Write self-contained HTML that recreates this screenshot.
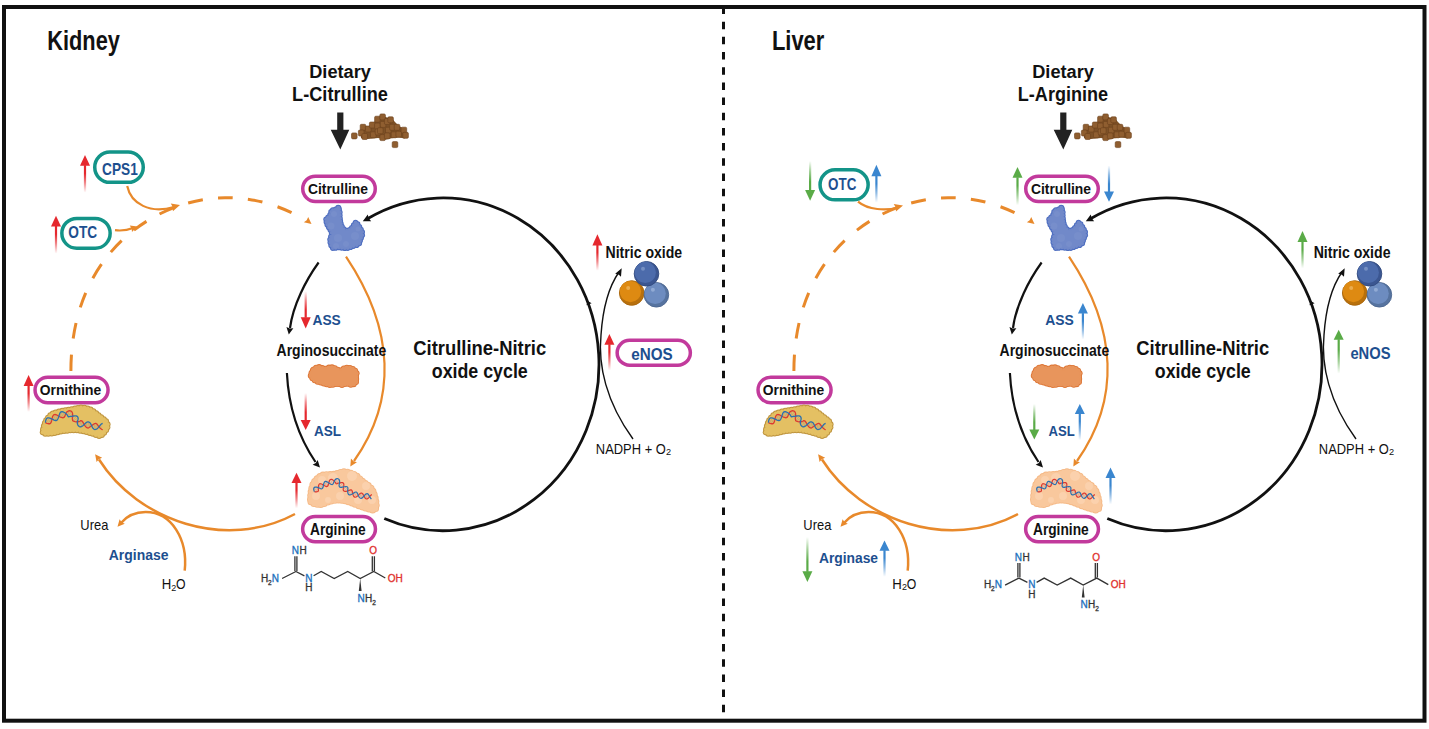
<!DOCTYPE html>
<html><head><meta charset="utf-8"><style>html,body{margin:0;padding:0;background:#fff;overflow:hidden;}svg{display:block;font-family:"Liberation Sans",sans-serif;}</style></head><body>
<svg width="1429" height="729" viewBox="0 0 1429 729" font-family="Liberation Sans, sans-serif">
<defs>
<linearGradient id="g_e5282e_u" x1="0" y1="1" x2="0" y2="0"><stop offset="0" stop-color="#e5282e" stop-opacity="0"/><stop offset="0.35" stop-color="#e5282e" stop-opacity="0.55"/><stop offset="0.7" stop-color="#e5282e" stop-opacity="1"/></linearGradient>
<linearGradient id="g_e5282e_d" x1="0" y1="0" x2="0" y2="1"><stop offset="0" stop-color="#e5282e" stop-opacity="0"/><stop offset="0.35" stop-color="#e5282e" stop-opacity="0.55"/><stop offset="0.7" stop-color="#e5282e" stop-opacity="1"/></linearGradient>
<linearGradient id="g_5aab47_d" x1="0" y1="0" x2="0" y2="1"><stop offset="0" stop-color="#5aab47" stop-opacity="0"/><stop offset="0.35" stop-color="#5aab47" stop-opacity="0.55"/><stop offset="0.7" stop-color="#5aab47" stop-opacity="1"/></linearGradient>
<linearGradient id="g_3a86cf_u" x1="0" y1="1" x2="0" y2="0"><stop offset="0" stop-color="#3a86cf" stop-opacity="0"/><stop offset="0.35" stop-color="#3a86cf" stop-opacity="0.55"/><stop offset="0.7" stop-color="#3a86cf" stop-opacity="1"/></linearGradient>
<linearGradient id="g_5aab47_u" x1="0" y1="1" x2="0" y2="0"><stop offset="0" stop-color="#5aab47" stop-opacity="0"/><stop offset="0.35" stop-color="#5aab47" stop-opacity="0.55"/><stop offset="0.7" stop-color="#5aab47" stop-opacity="1"/></linearGradient>
<linearGradient id="g_3a86cf_d" x1="0" y1="0" x2="0" y2="1"><stop offset="0" stop-color="#3a86cf" stop-opacity="0"/><stop offset="0.35" stop-color="#3a86cf" stop-opacity="0.55"/><stop offset="0.7" stop-color="#3a86cf" stop-opacity="1"/></linearGradient>
<radialGradient id="bo" cx="0.4" cy="0.35" r="0.7"><stop offset="0" stop-color="#eba033"/><stop offset="0.7" stop-color="#de8a12"/><stop offset="1" stop-color="#c07410"/></radialGradient>
<radialGradient id="blb" cx="0.4" cy="0.35" r="0.7"><stop offset="0" stop-color="#86a2cf"/><stop offset="0.7" stop-color="#6e8cc0"/><stop offset="1" stop-color="#5a76a8"/></radialGradient>
<radialGradient id="bdb" cx="0.4" cy="0.35" r="0.7"><stop offset="0" stop-color="#6382c0"/><stop offset="0.7" stop-color="#4b6aab"/><stop offset="1" stop-color="#3b5894"/></radialGradient>
</defs>
<rect width="1429" height="729" fill="#fff"/>
<path d="M70.9,371 C70.9,247 163,197.7 225,197.7 C230,197.7 267.9,195.8 309,222.5" fill="none" stroke="#e8892b" stroke-width="3.0" stroke-dasharray="16.25 16.25 15.75 16.25 15.50 16.25 16.50 15.25 15.75 16.25 15.25 15.00 15.75 15.00 15.00 15.25 15.00 15.25 14.75 15.75 15.25 200.00" stroke-dashoffset="0"/>
<polygon points="311.50,224.00 303.85,222.36 306.69,220.15 308.22,216.89" fill="#e8892b"/>
<path d="M384.3,518.5 A156,166.4 0 1 0 367,219" fill="none" stroke="#111" stroke-width="2.8"/>
<polygon points="362.80,221.20 367.79,214.46 368.68,218.21 371.19,221.15" fill="#111"/>
<polygon points="587.80,301.00 591.60,303.31 589.03,304.28 586.45,305.24" fill="#111"/>
<path d="M318.6,262.5 C306,280 293,305 290,328" fill="none" stroke="#111" stroke-width="2.2"/>
<polygon points="288.80,334.50 286.46,327.03 289.78,328.42 293.37,328.15" fill="#111"/>
<path d="M286.9,373 C288.5,405 298.5,437 315.5,462" fill="none" stroke="#111" stroke-width="2.2"/>
<polygon points="320.00,467.40 312.63,464.76 315.74,462.95 317.69,459.92" fill="#111"/>
<path d="M346,256.7 C395,330 397,400 354,461" fill="none" stroke="#e8892b" stroke-width="2.2"/>
<polygon points="350.30,466.40 350.94,458.60 353.49,461.13 356.92,462.23" fill="#e8892b"/>
<path d="M295,514 C226,551 138,521 99,459.5" fill="none" stroke="#e8892b" stroke-width="2.5"/>
<polygon points="95.10,454.30 102.14,457.73 98.85,459.19 96.58,461.99" fill="#e8892b"/>
<path d="M184.7,570.6 C188,540 172,512 145.6,512 C134,512 126,517 121,523" fill="none" stroke="#e8892b" stroke-width="2.5"/>
<polygon points="117.50,526.70 119.59,519.16 121.63,522.13 124.79,523.85" fill="#e8892b"/>
<path d="M633,439 C606,402 598,365 601,335 C603,305 610,285 619,272" fill="none" stroke="#111" stroke-width="1.4"/>
<polygon points="621.70,268.20 620.99,276.81 618.52,274.48 615.19,273.87" fill="#111"/>
<rect x="302.75" y="176.15" width="72.50" height="25.30" rx="12.65" fill="#fff" stroke="#c23a9c" stroke-width="3.50"/>
<text x="307.95" y="194.30" font-size="14.97" font-weight="bold" fill="#111111" textLength="60.09" lengthAdjust="spacingAndGlyphs">Citrulline</text>
<rect x="302.65" y="516.55" width="72.80" height="25.10" rx="12.55" fill="#fff" stroke="#c23a9c" stroke-width="3.50"/>
<text x="309.96" y="534.60" font-size="15.99" font-weight="bold" fill="#111111" textLength="55.73" lengthAdjust="spacingAndGlyphs">Arginine</text>
<rect x="35.05" y="377.15" width="73.00" height="25.50" rx="12.75" fill="#fff" stroke="#c23a9c" stroke-width="3.50"/>
<text x="39.75" y="394.60" font-size="15.41" font-weight="bold" fill="#111111" textLength="61.53" lengthAdjust="spacingAndGlyphs">Ornithine</text>
<text x="309.22" y="78.30" font-size="18.90" font-weight="bold" fill="#111111" textLength="61.69" lengthAdjust="spacingAndGlyphs">Dietary</text>
<path d="M337.2,112.6 L343.4,112.6 L343.4,129.7 L349.3,129.7 L340.3,149.6 L330.7,129.7 L337.2,129.7Z" fill="#222"/>
<path d="M361,138 L360.5,130 L364,126 L369,126 L374,122 L377.5,117.5 L382,115.5 L387,117.5 L391.5,118 L395,122 L398.5,125.5 L402.5,128 L406,131 L406.5,136 L404.5,138.5 L399,137.5 L393,138 L386,139.5 L378,138 L368,139 Z" fill="#7d5127"/>
<rect x="360.20" y="124.30" width="5.6" height="6" rx="1.3" fill="#8f5e30" stroke="#6b421d" stroke-width="0.6"/>
<rect x="358.40" y="130.00" width="5.6" height="6" rx="1.3" fill="#8f5e30" stroke="#6b421d" stroke-width="0.6"/>
<rect x="361.90" y="133.50" width="5.6" height="6" rx="1.3" fill="#8f5e30" stroke="#6b421d" stroke-width="0.6"/>
<rect x="365.40" y="126.00" width="5.6" height="6" rx="1.3" fill="#8f5e30" stroke="#6b421d" stroke-width="0.6"/>
<rect x="369.40" y="122.00" width="5.6" height="6" rx="1.3" fill="#8f5e30" stroke="#6b421d" stroke-width="0.6"/>
<rect x="370.50" y="131.80" width="5.6" height="6" rx="1.3" fill="#8f5e30" stroke="#6b421d" stroke-width="0.6"/>
<rect x="374.60" y="116.20" width="5.6" height="6" rx="1.3" fill="#8f5e30" stroke="#6b421d" stroke-width="0.6"/>
<rect x="374.60" y="123.10" width="5.6" height="6" rx="1.3" fill="#8f5e30" stroke="#6b421d" stroke-width="0.6"/>
<rect x="375.20" y="128.90" width="5.6" height="6" rx="1.3" fill="#8f5e30" stroke="#6b421d" stroke-width="0.6"/>
<rect x="379.80" y="113.90" width="5.6" height="6" rx="1.3" fill="#8f5e30" stroke="#6b421d" stroke-width="0.6"/>
<rect x="380.30" y="121.40" width="5.6" height="6" rx="1.3" fill="#8f5e30" stroke="#6b421d" stroke-width="0.6"/>
<rect x="379.80" y="134.60" width="5.6" height="6" rx="1.3" fill="#8f5e30" stroke="#6b421d" stroke-width="0.6"/>
<rect x="377.50" y="127.70" width="5.6" height="6" rx="1.3" fill="#8f5e30" stroke="#6b421d" stroke-width="0.6"/>
<rect x="384.40" y="118.50" width="5.6" height="6" rx="1.3" fill="#8f5e30" stroke="#6b421d" stroke-width="0.6"/>
<rect x="385.50" y="127.20" width="5.6" height="6" rx="1.3" fill="#8f5e30" stroke="#6b421d" stroke-width="0.6"/>
<rect x="384.40" y="132.90" width="5.6" height="6" rx="1.3" fill="#8f5e30" stroke="#6b421d" stroke-width="0.6"/>
<rect x="387.80" y="116.80" width="5.6" height="6" rx="1.3" fill="#8f5e30" stroke="#6b421d" stroke-width="0.6"/>
<rect x="389.60" y="124.30" width="5.6" height="6" rx="1.3" fill="#8f5e30" stroke="#6b421d" stroke-width="0.6"/>
<rect x="391.20" y="131.80" width="5.6" height="6" rx="1.3" fill="#8f5e30" stroke="#6b421d" stroke-width="0.6"/>
<rect x="394.20" y="124.30" width="5.6" height="6" rx="1.3" fill="#8f5e30" stroke="#6b421d" stroke-width="0.6"/>
<rect x="395.90" y="131.20" width="5.6" height="6" rx="1.3" fill="#8f5e30" stroke="#6b421d" stroke-width="0.6"/>
<rect x="401.10" y="127.20" width="5.6" height="6" rx="1.3" fill="#8f5e30" stroke="#6b421d" stroke-width="0.6"/>
<rect x="402.80" y="132.30" width="5.6" height="6" rx="1.3" fill="#8f5e30" stroke="#6b421d" stroke-width="0.6"/>
<rect x="351.50" y="132.90" width="5.6" height="6" rx="1.3" fill="#8f5e30" stroke="#6b421d" stroke-width="0.6"/>
<rect x="392.20" y="141.60" width="5.6" height="6" rx="1.3" fill="#8f5e30" stroke="#6b421d" stroke-width="0.6"/>
<circle cx="338.10" cy="207.58" r="2.80" fill="#4e6ec0"/><circle cx="339.08" cy="209.35" r="2.80" fill="#4e6ec0"/><circle cx="339.82" cy="212.18" r="2.80" fill="#4e6ec0"/><circle cx="339.79" cy="215.31" r="2.80" fill="#4e6ec0"/><circle cx="339.98" cy="218.19" r="2.80" fill="#4e6ec0"/><circle cx="340.36" cy="220.96" r="2.80" fill="#4e6ec0"/><circle cx="340.91" cy="223.76" r="2.80" fill="#4e6ec0"/><circle cx="341.97" cy="226.59" r="2.80" fill="#4e6ec0"/><circle cx="343.84" cy="229.10" r="2.80" fill="#4e6ec0"/><circle cx="346.87" cy="230.60" r="2.80" fill="#4e6ec0"/><circle cx="349.60" cy="229.77" r="2.80" fill="#4e6ec0"/><circle cx="351.80" cy="227.70" r="2.80" fill="#4e6ec0"/><circle cx="353.72" cy="224.93" r="2.80" fill="#4e6ec0"/><circle cx="355.52" cy="222.50" r="2.80" fill="#4e6ec0"/><circle cx="357.64" cy="224.13" r="2.80" fill="#4e6ec0"/><circle cx="359.43" cy="226.89" r="2.80" fill="#4e6ec0"/><circle cx="360.98" cy="229.48" r="2.80" fill="#4e6ec0"/><circle cx="362.20" cy="232.02" r="2.80" fill="#4e6ec0"/><circle cx="362.24" cy="235.19" r="2.80" fill="#4e6ec0"/><circle cx="361.14" cy="238.04" r="2.80" fill="#4e6ec0"/><circle cx="360.12" cy="240.68" r="2.80" fill="#4e6ec0"/><circle cx="359.28" cy="243.50" r="2.80" fill="#4e6ec0"/><circle cx="356.68" cy="245.20" r="2.80" fill="#4e6ec0"/><circle cx="353.48" cy="246.12" r="2.80" fill="#4e6ec0"/><circle cx="350.54" cy="247.21" r="2.80" fill="#4e6ec0"/><circle cx="347.76" cy="248.10" r="2.80" fill="#4e6ec0"/><circle cx="344.82" cy="248.29" r="2.80" fill="#4e6ec0"/><circle cx="341.74" cy="247.85" r="2.80" fill="#4e6ec0"/><circle cx="338.93" cy="247.51" r="2.80" fill="#4e6ec0"/><circle cx="335.53" cy="247.95" r="2.80" fill="#4e6ec0"/><circle cx="332.75" cy="248.12" r="2.80" fill="#4e6ec0"/><circle cx="331.13" cy="245.48" r="2.80" fill="#4e6ec0"/><circle cx="330.31" cy="242.49" r="2.80" fill="#4e6ec0"/><circle cx="330.07" cy="239.51" r="2.80" fill="#4e6ec0"/><circle cx="330.92" cy="236.43" r="2.80" fill="#4e6ec0"/><circle cx="331.58" cy="232.87" r="2.80" fill="#4e6ec0"/><circle cx="330.38" cy="230.00" r="2.80" fill="#4e6ec0"/><circle cx="328.82" cy="227.47" r="2.80" fill="#4e6ec0"/><circle cx="327.25" cy="224.79" r="2.80" fill="#4e6ec0"/><circle cx="326.37" cy="222.09" r="2.80" fill="#4e6ec0"/><circle cx="326.12" cy="219.23" r="2.80" fill="#4e6ec0"/><circle cx="328.08" cy="217.25" r="2.80" fill="#4e6ec0"/><circle cx="330.09" cy="214.91" r="2.80" fill="#4e6ec0"/><circle cx="331.06" cy="211.90" r="2.80" fill="#4e6ec0"/><circle cx="332.78" cy="209.99" r="2.80" fill="#4e6ec0"/><circle cx="335.66" cy="209.31" r="2.80" fill="#4e6ec0"/><circle cx="338.54" cy="207.69" r="2.80" fill="#4e6ec0"/><circle cx="338.10" cy="207.58" r="1.80" fill="#7189c9"/><circle cx="339.08" cy="209.35" r="1.80" fill="#7189c9"/><circle cx="339.82" cy="212.18" r="1.80" fill="#7189c9"/><circle cx="339.79" cy="215.31" r="1.80" fill="#7189c9"/><circle cx="339.98" cy="218.19" r="1.80" fill="#7189c9"/><circle cx="340.36" cy="220.96" r="1.80" fill="#7189c9"/><circle cx="340.91" cy="223.76" r="1.80" fill="#7189c9"/><circle cx="341.97" cy="226.59" r="1.80" fill="#7189c9"/><circle cx="343.84" cy="229.10" r="1.80" fill="#7189c9"/><circle cx="346.87" cy="230.60" r="1.80" fill="#7189c9"/><circle cx="349.60" cy="229.77" r="1.80" fill="#7189c9"/><circle cx="351.80" cy="227.70" r="1.80" fill="#7189c9"/><circle cx="353.72" cy="224.93" r="1.80" fill="#7189c9"/><circle cx="355.52" cy="222.50" r="1.80" fill="#7189c9"/><circle cx="357.64" cy="224.13" r="1.80" fill="#7189c9"/><circle cx="359.43" cy="226.89" r="1.80" fill="#7189c9"/><circle cx="360.98" cy="229.48" r="1.80" fill="#7189c9"/><circle cx="362.20" cy="232.02" r="1.80" fill="#7189c9"/><circle cx="362.24" cy="235.19" r="1.80" fill="#7189c9"/><circle cx="361.14" cy="238.04" r="1.80" fill="#7189c9"/><circle cx="360.12" cy="240.68" r="1.80" fill="#7189c9"/><circle cx="359.28" cy="243.50" r="1.80" fill="#7189c9"/><circle cx="356.68" cy="245.20" r="1.80" fill="#7189c9"/><circle cx="353.48" cy="246.12" r="1.80" fill="#7189c9"/><circle cx="350.54" cy="247.21" r="1.80" fill="#7189c9"/><circle cx="347.76" cy="248.10" r="1.80" fill="#7189c9"/><circle cx="344.82" cy="248.29" r="1.80" fill="#7189c9"/><circle cx="341.74" cy="247.85" r="1.80" fill="#7189c9"/><circle cx="338.93" cy="247.51" r="1.80" fill="#7189c9"/><circle cx="335.53" cy="247.95" r="1.80" fill="#7189c9"/><circle cx="332.75" cy="248.12" r="1.80" fill="#7189c9"/><circle cx="331.13" cy="245.48" r="1.80" fill="#7189c9"/><circle cx="330.31" cy="242.49" r="1.80" fill="#7189c9"/><circle cx="330.07" cy="239.51" r="1.80" fill="#7189c9"/><circle cx="330.92" cy="236.43" r="1.80" fill="#7189c9"/><circle cx="331.58" cy="232.87" r="1.80" fill="#7189c9"/><circle cx="330.38" cy="230.00" r="1.80" fill="#7189c9"/><circle cx="328.82" cy="227.47" r="1.80" fill="#7189c9"/><circle cx="327.25" cy="224.79" r="1.80" fill="#7189c9"/><circle cx="326.37" cy="222.09" r="1.80" fill="#7189c9"/><circle cx="326.12" cy="219.23" r="1.80" fill="#7189c9"/><circle cx="328.08" cy="217.25" r="1.80" fill="#7189c9"/><circle cx="330.09" cy="214.91" r="1.80" fill="#7189c9"/><circle cx="331.06" cy="211.90" r="1.80" fill="#7189c9"/><circle cx="332.78" cy="209.99" r="1.80" fill="#7189c9"/><circle cx="335.66" cy="209.31" r="1.80" fill="#7189c9"/><circle cx="338.54" cy="207.69" r="1.80" fill="#7189c9"/><path d="M338.10,207.58 L337.52,207.48 L338.00,207.94 L338.56,208.59 L339.08,209.35 L339.48,210.14 L339.68,210.76 L339.77,211.37 L339.82,212.18 L339.82,213.14 L339.81,214.19 L339.79,215.31 L339.82,216.49 L339.91,217.64 L340.05,218.73 L340.20,219.83 L340.36,220.96 L340.56,222.10 L340.78,223.22 L341.06,224.30 L341.41,225.36 L341.97,226.59 L342.81,227.93 L343.84,229.10 L345.10,230.04 L346.87,230.60 L348.82,230.21 L350.24,229.27 L351.31,228.23 L352.28,227.16 L353.06,226.08 L353.72,224.93 L354.27,223.90 L354.71,223.17 L354.98,222.86 L355.52,222.50 L355.85,222.35 L356.04,222.37 L356.23,222.51 L356.53,222.80 L357.05,223.38 L357.64,224.13 L358.24,224.99 L358.85,225.93 L359.43,226.89 L359.93,227.72 L360.46,228.60 L360.98,229.48 L361.46,230.36 L361.87,231.21 L362.20,232.02 L362.41,232.74 L362.50,233.34 L362.49,234.00 L362.35,234.76 L362.10,235.63 L361.75,236.57 L361.35,237.55 L360.92,238.54 L360.51,239.55 L360.12,240.68 L359.78,241.84 L359.52,242.80 L359.28,243.50 L359.04,243.96 L358.73,244.31 L358.41,244.54 L357.86,244.80 L357.12,245.07 L356.20,245.33 L355.17,245.61 L354.05,245.93 L352.98,246.29 L351.99,246.66 L351.02,247.03 L350.06,247.39 L349.12,247.71 L348.21,247.98 L347.33,248.19 L346.49,248.31 L345.71,248.34 L344.82,248.29 L343.85,248.18 L342.82,248.02 L341.74,247.85 L340.64,247.68 L339.53,247.55 L338.33,247.50 L336.86,247.64 L335.53,247.95 L334.46,248.26 L333.69,248.46 L333.32,248.51 L333.21,248.49 L332.96,248.31 L332.53,247.87 L332.04,247.21 L331.57,246.39 L331.13,245.48 L330.78,244.55 L330.56,243.82 L330.38,242.96 L330.24,242.00 L330.15,240.99 L330.09,240.00 L330.07,239.05 L330.08,238.28 L330.11,237.71 L330.35,237.25 L330.92,236.43 L331.59,234.81 L331.58,232.87 L331.17,231.56 L330.67,230.51 L330.09,229.49 L329.46,228.47 L328.82,227.47 L328.21,226.50 L327.67,225.59 L327.25,224.79 L326.96,224.11 L326.64,223.10 L326.37,222.09 L326.19,221.15 L326.10,220.29 L326.09,219.55 L326.15,219.02 L326.21,218.72 L326.48,218.42 L327.10,217.94 L328.08,217.25 L329.21,216.24 L330.09,214.91 L330.60,213.60 L330.93,212.42 L331.19,211.43 L331.40,210.75 L331.44,210.60 L331.78,210.31 L332.34,210.11 L333.26,209.86 L334.18,209.57 L335.10,209.40 L336.42,209.12 L338.03,208.24 L338.67,207.45Z" fill="#7189c9"/>
<circle cx="334.0" cy="214.0" r="3.0" fill="#7f95cf" opacity="0.45"/>
<circle cx="331.0" cy="226.0" r="3.5" fill="#7f95cf" opacity="0.45"/>
<circle cx="338.0" cy="238.0" r="4.0" fill="#7f95cf" opacity="0.45"/>
<circle cx="355.0" cy="236.0" r="4.0" fill="#7f95cf" opacity="0.45"/>
<circle cx="346.0" cy="244.0" r="3.0" fill="#7f95cf" opacity="0.45"/>
<circle cx="358.0" cy="229.0" r="2.5" fill="#7f95cf" opacity="0.45"/>
<circle cx="336.0" cy="246.0" r="3.0" fill="#7f95cf" opacity="0.45"/>
<circle cx="313.78" cy="369.40" r="3.00" fill="#dc7332"/><circle cx="316.13" cy="367.75" r="3.00" fill="#dc7332"/><circle cx="319.12" cy="367.11" r="3.00" fill="#dc7332"/><circle cx="322.33" cy="368.08" r="3.00" fill="#dc7332"/><circle cx="325.80" cy="368.74" r="3.00" fill="#dc7332"/><circle cx="328.95" cy="367.61" r="3.00" fill="#dc7332"/><circle cx="331.98" cy="367.35" r="3.00" fill="#dc7332"/><circle cx="334.82" cy="368.24" r="3.00" fill="#dc7332"/><circle cx="337.72" cy="369.80" r="3.00" fill="#dc7332"/><circle cx="341.42" cy="370.19" r="3.00" fill="#dc7332"/><circle cx="343.83" cy="368.48" r="3.00" fill="#dc7332"/><circle cx="346.81" cy="367.69" r="3.00" fill="#dc7332"/><circle cx="349.94" cy="367.89" r="3.00" fill="#dc7332"/><circle cx="352.74" cy="368.97" r="3.00" fill="#dc7332"/><circle cx="355.08" cy="370.76" r="3.00" fill="#dc7332"/><circle cx="356.58" cy="373.21" r="3.00" fill="#dc7332"/><circle cx="355.97" cy="376.14" r="3.00" fill="#dc7332"/><circle cx="356.17" cy="379.04" r="3.00" fill="#dc7332"/><circle cx="355.99" cy="381.98" r="3.00" fill="#dc7332"/><circle cx="353.69" cy="384.16" r="3.00" fill="#dc7332"/><circle cx="350.84" cy="384.70" r="3.00" fill="#dc7332"/><circle cx="347.83" cy="383.76" r="3.00" fill="#dc7332"/><circle cx="344.75" cy="384.09" r="3.00" fill="#dc7332"/><circle cx="341.95" cy="385.00" r="3.00" fill="#dc7332"/><circle cx="338.54" cy="384.05" r="3.00" fill="#dc7332"/><circle cx="335.60" cy="384.05" r="3.00" fill="#dc7332"/><circle cx="332.82" cy="384.82" r="3.00" fill="#dc7332"/><circle cx="329.84" cy="385.11" r="3.00" fill="#dc7332"/><circle cx="326.62" cy="384.34" r="3.00" fill="#dc7332"/><circle cx="323.74" cy="383.51" r="3.00" fill="#dc7332"/><circle cx="320.74" cy="382.51" r="3.00" fill="#dc7332"/><circle cx="317.67" cy="381.74" r="3.00" fill="#dc7332"/><circle cx="314.75" cy="380.28" r="3.00" fill="#dc7332"/><circle cx="312.41" cy="378.24" r="3.00" fill="#dc7332"/><circle cx="310.78" cy="375.71" r="3.00" fill="#dc7332"/><circle cx="311.52" cy="372.89" r="3.00" fill="#dc7332"/><circle cx="312.93" cy="370.30" r="3.00" fill="#dc7332"/><circle cx="313.78" cy="369.40" r="2.20" fill="#e8955c"/><circle cx="316.13" cy="367.75" r="2.20" fill="#e8955c"/><circle cx="319.12" cy="367.11" r="2.20" fill="#e8955c"/><circle cx="322.33" cy="368.08" r="2.20" fill="#e8955c"/><circle cx="325.80" cy="368.74" r="2.20" fill="#e8955c"/><circle cx="328.95" cy="367.61" r="2.20" fill="#e8955c"/><circle cx="331.98" cy="367.35" r="2.20" fill="#e8955c"/><circle cx="334.82" cy="368.24" r="2.20" fill="#e8955c"/><circle cx="337.72" cy="369.80" r="2.20" fill="#e8955c"/><circle cx="341.42" cy="370.19" r="2.20" fill="#e8955c"/><circle cx="343.83" cy="368.48" r="2.20" fill="#e8955c"/><circle cx="346.81" cy="367.69" r="2.20" fill="#e8955c"/><circle cx="349.94" cy="367.89" r="2.20" fill="#e8955c"/><circle cx="352.74" cy="368.97" r="2.20" fill="#e8955c"/><circle cx="355.08" cy="370.76" r="2.20" fill="#e8955c"/><circle cx="356.58" cy="373.21" r="2.20" fill="#e8955c"/><circle cx="355.97" cy="376.14" r="2.20" fill="#e8955c"/><circle cx="356.17" cy="379.04" r="2.20" fill="#e8955c"/><circle cx="355.99" cy="381.98" r="2.20" fill="#e8955c"/><circle cx="353.69" cy="384.16" r="2.20" fill="#e8955c"/><circle cx="350.84" cy="384.70" r="2.20" fill="#e8955c"/><circle cx="347.83" cy="383.76" r="2.20" fill="#e8955c"/><circle cx="344.75" cy="384.09" r="2.20" fill="#e8955c"/><circle cx="341.95" cy="385.00" r="2.20" fill="#e8955c"/><circle cx="338.54" cy="384.05" r="2.20" fill="#e8955c"/><circle cx="335.60" cy="384.05" r="2.20" fill="#e8955c"/><circle cx="332.82" cy="384.82" r="2.20" fill="#e8955c"/><circle cx="329.84" cy="385.11" r="2.20" fill="#e8955c"/><circle cx="326.62" cy="384.34" r="2.20" fill="#e8955c"/><circle cx="323.74" cy="383.51" r="2.20" fill="#e8955c"/><circle cx="320.74" cy="382.51" r="2.20" fill="#e8955c"/><circle cx="317.67" cy="381.74" r="2.20" fill="#e8955c"/><circle cx="314.75" cy="380.28" r="2.20" fill="#e8955c"/><circle cx="312.41" cy="378.24" r="2.20" fill="#e8955c"/><circle cx="310.78" cy="375.71" r="2.20" fill="#e8955c"/><circle cx="311.52" cy="372.89" r="2.20" fill="#e8955c"/><circle cx="312.93" cy="370.30" r="2.20" fill="#e8955c"/><path d="M313.78,369.40 L314.39,368.87 L315.08,368.36 L315.78,367.92 L316.47,367.59 L317.13,367.38 L317.86,367.23 L318.69,367.14 L319.53,367.11 L320.25,367.13 L320.74,367.20 L321.31,367.49 L322.33,368.08 L323.93,368.69 L325.80,368.74 L327.31,368.32 L328.47,367.83 L329.38,367.43 L330.02,367.22 L330.54,367.18 L331.21,367.23 L331.98,367.35 L332.83,367.56 L333.71,367.82 L334.47,368.07 L335.21,368.44 L336.12,368.95 L337.15,369.52 L338.34,370.06 L340.19,370.39 L342.37,369.73 L343.51,368.76 L344.17,368.32 L344.63,368.20 L345.49,367.96 L346.38,367.76 L347.22,367.63 L347.97,367.60 L348.71,367.66 L349.52,367.79 L350.36,368.00 L351.18,368.27 L351.93,368.57 L352.74,368.97 L353.51,369.43 L354.21,369.95 L354.82,370.48 L355.33,371.05 L355.81,371.69 L356.22,372.36 L356.50,372.99 L356.62,373.35 L356.62,373.69 L356.45,374.32 L356.12,375.42 L355.90,376.92 L356.03,378.42 L356.29,379.54 L356.43,380.22 L356.42,380.65 L356.27,381.26 L355.99,381.98 L355.64,382.61 L355.17,383.16 L354.73,383.50 L354.06,383.95 L353.31,384.36 L352.56,384.68 L351.95,384.87 L351.61,384.92 L351.18,384.82 L350.40,384.54 L349.29,384.12 L347.83,383.76 L346.18,383.76 L344.75,384.09 L343.61,384.50 L342.74,384.82 L342.15,384.98 L341.75,384.99 L341.21,384.86 L340.37,384.58 L339.23,384.21 L337.79,383.94 L336.28,383.94 L334.97,384.19 L333.83,384.51 L332.82,384.82 L331.96,385.06 L331.26,385.18 L330.61,385.19 L329.84,385.11 L328.98,384.95 L328.07,384.73 L327.11,384.48 L326.14,384.21 L325.17,383.95 L324.21,383.67 L323.27,383.36 L322.31,383.02 L321.29,382.68 L320.19,382.35 L319.09,382.08 L318.11,381.85 L317.26,381.62 L316.53,381.35 L315.85,381.00 L315.13,380.54 L314.37,380.00 L313.64,379.41 L312.98,378.82 L312.41,378.24 L311.79,377.53 L311.30,376.87 L310.98,376.33 L310.82,375.90 L310.78,375.54 L310.85,374.99 L311.04,374.20 L311.34,373.33 L311.69,372.47 L312.06,371.67 L312.48,370.93 L312.93,370.30 L313.47,369.70Z" fill="#e8955c"/>
<circle cx="310.55" cy="499.13" r="3.50" fill="#f5b986"/><circle cx="310.74" cy="495.52" r="3.50" fill="#f5b986"/><circle cx="311.17" cy="491.87" r="3.50" fill="#f5b986"/><circle cx="311.87" cy="488.16" r="3.50" fill="#f5b986"/><circle cx="312.95" cy="484.60" r="3.50" fill="#f5b986"/><circle cx="314.65" cy="481.57" r="3.50" fill="#f5b986"/><circle cx="317.07" cy="478.78" r="3.50" fill="#f5b986"/><circle cx="319.87" cy="476.56" r="3.50" fill="#f5b986"/><circle cx="322.97" cy="475.05" r="3.50" fill="#f5b986"/><circle cx="326.44" cy="474.66" r="3.50" fill="#f5b986"/><circle cx="330.18" cy="474.60" r="3.50" fill="#f5b986"/><circle cx="333.69" cy="474.31" r="3.50" fill="#f5b986"/><circle cx="337.11" cy="473.50" r="3.50" fill="#f5b986"/><circle cx="340.59" cy="472.44" r="3.50" fill="#f5b986"/><circle cx="343.92" cy="471.75" r="3.50" fill="#f5b986"/><circle cx="347.51" cy="472.16" r="3.50" fill="#f5b986"/><circle cx="350.80" cy="473.20" r="3.50" fill="#f5b986"/><circle cx="353.97" cy="474.56" r="3.50" fill="#f5b986"/><circle cx="356.98" cy="476.16" r="3.50" fill="#f5b986"/><circle cx="359.76" cy="478.95" r="3.50" fill="#f5b986"/><circle cx="362.43" cy="481.32" r="3.50" fill="#f5b986"/><circle cx="365.31" cy="483.38" r="3.50" fill="#f5b986"/><circle cx="368.23" cy="485.52" r="3.50" fill="#f5b986"/><circle cx="371.01" cy="488.13" r="3.50" fill="#f5b986"/><circle cx="372.93" cy="491.31" r="3.50" fill="#f5b986"/><circle cx="374.16" cy="494.53" r="3.50" fill="#f5b986"/><circle cx="375.15" cy="498.08" r="3.50" fill="#f5b986"/><circle cx="375.82" cy="501.50" r="3.50" fill="#f5b986"/><circle cx="376.16" cy="505.14" r="3.50" fill="#f5b986"/><circle cx="375.56" cy="508.59" r="3.50" fill="#f5b986"/><circle cx="372.65" cy="509.96" r="3.50" fill="#f5b986"/><circle cx="369.01" cy="509.07" r="3.50" fill="#f5b986"/><circle cx="365.46" cy="507.97" r="3.50" fill="#f5b986"/><circle cx="362.18" cy="506.92" r="3.50" fill="#f5b986"/><circle cx="358.88" cy="505.68" r="3.50" fill="#f5b986"/><circle cx="355.24" cy="504.23" r="3.50" fill="#f5b986"/><circle cx="352.06" cy="502.98" r="3.50" fill="#f5b986"/><circle cx="348.48" cy="501.68" r="3.50" fill="#f5b986"/><circle cx="345.16" cy="500.72" r="3.50" fill="#f5b986"/><circle cx="341.81" cy="500.13" r="3.50" fill="#f5b986"/><circle cx="338.37" cy="499.99" r="3.50" fill="#f5b986"/><circle cx="334.80" cy="500.36" r="3.50" fill="#f5b986"/><circle cx="331.01" cy="501.05" r="3.50" fill="#f5b986"/><circle cx="327.70" cy="502.10" r="3.50" fill="#f5b986"/><circle cx="324.10" cy="503.43" r="3.50" fill="#f5b986"/><circle cx="320.72" cy="504.38" r="3.50" fill="#f5b986"/><circle cx="317.32" cy="504.35" r="3.50" fill="#f5b986"/><circle cx="313.92" cy="503.50" r="3.50" fill="#f5b986"/><circle cx="310.95" cy="501.73" r="3.50" fill="#f5b986"/><circle cx="310.55" cy="499.13" r="2.60" fill="#f9c89d"/><circle cx="310.74" cy="495.52" r="2.60" fill="#f9c89d"/><circle cx="311.17" cy="491.87" r="2.60" fill="#f9c89d"/><circle cx="311.87" cy="488.16" r="2.60" fill="#f9c89d"/><circle cx="312.95" cy="484.60" r="2.60" fill="#f9c89d"/><circle cx="314.65" cy="481.57" r="2.60" fill="#f9c89d"/><circle cx="317.07" cy="478.78" r="2.60" fill="#f9c89d"/><circle cx="319.87" cy="476.56" r="2.60" fill="#f9c89d"/><circle cx="322.97" cy="475.05" r="2.60" fill="#f9c89d"/><circle cx="326.44" cy="474.66" r="2.60" fill="#f9c89d"/><circle cx="330.18" cy="474.60" r="2.60" fill="#f9c89d"/><circle cx="333.69" cy="474.31" r="2.60" fill="#f9c89d"/><circle cx="337.11" cy="473.50" r="2.60" fill="#f9c89d"/><circle cx="340.59" cy="472.44" r="2.60" fill="#f9c89d"/><circle cx="343.92" cy="471.75" r="2.60" fill="#f9c89d"/><circle cx="347.51" cy="472.16" r="2.60" fill="#f9c89d"/><circle cx="350.80" cy="473.20" r="2.60" fill="#f9c89d"/><circle cx="353.97" cy="474.56" r="2.60" fill="#f9c89d"/><circle cx="356.98" cy="476.16" r="2.60" fill="#f9c89d"/><circle cx="359.76" cy="478.95" r="2.60" fill="#f9c89d"/><circle cx="362.43" cy="481.32" r="2.60" fill="#f9c89d"/><circle cx="365.31" cy="483.38" r="2.60" fill="#f9c89d"/><circle cx="368.23" cy="485.52" r="2.60" fill="#f9c89d"/><circle cx="371.01" cy="488.13" r="2.60" fill="#f9c89d"/><circle cx="372.93" cy="491.31" r="2.60" fill="#f9c89d"/><circle cx="374.16" cy="494.53" r="2.60" fill="#f9c89d"/><circle cx="375.15" cy="498.08" r="2.60" fill="#f9c89d"/><circle cx="375.82" cy="501.50" r="2.60" fill="#f9c89d"/><circle cx="376.16" cy="505.14" r="2.60" fill="#f9c89d"/><circle cx="375.56" cy="508.59" r="2.60" fill="#f9c89d"/><circle cx="372.65" cy="509.96" r="2.60" fill="#f9c89d"/><circle cx="369.01" cy="509.07" r="2.60" fill="#f9c89d"/><circle cx="365.46" cy="507.97" r="2.60" fill="#f9c89d"/><circle cx="362.18" cy="506.92" r="2.60" fill="#f9c89d"/><circle cx="358.88" cy="505.68" r="2.60" fill="#f9c89d"/><circle cx="355.24" cy="504.23" r="2.60" fill="#f9c89d"/><circle cx="352.06" cy="502.98" r="2.60" fill="#f9c89d"/><circle cx="348.48" cy="501.68" r="2.60" fill="#f9c89d"/><circle cx="345.16" cy="500.72" r="2.60" fill="#f9c89d"/><circle cx="341.81" cy="500.13" r="2.60" fill="#f9c89d"/><circle cx="338.37" cy="499.99" r="2.60" fill="#f9c89d"/><circle cx="334.80" cy="500.36" r="2.60" fill="#f9c89d"/><circle cx="331.01" cy="501.05" r="2.60" fill="#f9c89d"/><circle cx="327.70" cy="502.10" r="2.60" fill="#f9c89d"/><circle cx="324.10" cy="503.43" r="2.60" fill="#f9c89d"/><circle cx="320.72" cy="504.38" r="2.60" fill="#f9c89d"/><circle cx="317.32" cy="504.35" r="2.60" fill="#f9c89d"/><circle cx="313.92" cy="503.50" r="2.60" fill="#f9c89d"/><circle cx="310.95" cy="501.73" r="2.60" fill="#f9c89d"/><path d="M310.55,499.13 L310.56,498.54 L310.59,497.78 L310.63,496.93 L310.70,496.01 L310.79,495.03 L310.89,494.00 L311.02,492.95 L311.17,491.87 L311.35,490.79 L311.54,489.72 L311.75,488.67 L311.99,487.66 L312.24,486.69 L312.52,485.79 L312.80,484.97 L313.09,484.26 L313.45,483.53 L313.89,482.73 L314.39,481.95 L314.92,481.20 L315.50,480.47 L316.10,479.77 L316.74,479.10 L317.41,478.47 L318.10,477.87 L318.80,477.32 L319.51,476.80 L320.23,476.33 L320.95,475.91 L321.61,475.55 L322.28,475.27 L322.97,475.05 L323.73,474.89 L324.57,474.78 L325.48,474.70 L326.44,474.66 L327.46,474.64 L328.52,474.63 L329.62,474.62 L330.75,474.59 L331.91,474.52 L333.10,474.40 L334.29,474.20 L335.46,473.95 L336.57,473.65 L337.64,473.34 L338.67,473.02 L339.65,472.72 L340.59,472.44 L341.48,472.19 L342.34,471.99 L343.15,471.84 L343.92,471.75 L344.66,471.73 L345.39,471.78 L346.19,471.88 L347.06,472.05 L347.96,472.27 L348.90,472.55 L349.85,472.86 L350.80,473.20 L351.74,473.58 L352.66,473.96 L353.55,474.36 L354.39,474.75 L355.18,475.14 L355.84,475.48 L356.68,475.96 L357.24,476.35 L357.69,476.73 L358.14,477.19 L358.68,477.79 L359.36,478.53 L360.22,479.41 L361.28,480.39 L362.04,481.02 L362.82,481.61 L363.63,482.20 L364.47,482.79 L365.31,483.38 L366.16,483.98 L367.01,484.59 L367.83,485.21 L368.63,485.84 L369.38,486.48 L370.08,487.14 L370.72,487.80 L371.29,488.47 L371.78,489.15 L372.18,489.81 L372.55,490.51 L372.93,491.31 L373.30,492.17 L373.65,493.08 L373.99,494.04 L374.31,495.03 L374.61,496.04 L374.89,497.06 L375.15,498.08 L375.37,499.09 L375.58,500.08 L375.75,501.04 L375.89,501.95 L376.01,502.80 L376.09,503.58 L376.14,504.26 L376.16,505.14 L376.11,506.22 L375.99,507.15 L375.80,507.94 L375.56,508.59 L375.29,509.09 L375.02,509.46 L374.76,509.71 L374.45,509.89 L374.21,509.98 L373.97,510.02 L373.55,510.04 L372.99,510.01 L372.28,509.91 L371.47,509.74 L370.55,509.51 L369.55,509.23 L368.46,508.90 L367.31,508.54 L366.09,508.16 L364.83,507.77 L363.80,507.47 L363.02,507.21 L362.18,506.92 L361.29,506.60 L360.35,506.25 L359.38,505.87 L358.37,505.48 L357.35,505.07 L356.30,504.65 L355.24,504.23 L354.18,503.81 L353.12,503.39 L352.06,502.98 L351.02,502.58 L349.99,502.20 L348.97,501.84 L347.98,501.51 L347.02,501.21 L346.08,500.95 L345.16,500.72 L343.76,500.43 L342.44,500.22 L341.20,500.07 L340.03,499.99 L338.91,499.98 L337.84,500.02 L336.81,500.10 L335.80,500.22 L334.80,500.36 L333.78,500.52 L332.67,500.70 L331.58,500.91 L330.45,501.20 L329.33,501.54 L328.24,501.91 L327.16,502.30 L326.11,502.69 L325.09,503.07 L324.10,503.43 L323.15,503.75 L322.27,504.03 L321.45,504.24 L320.72,504.38 L320.10,504.46 L319.18,504.48 L318.25,504.45 L317.32,504.35 L316.41,504.20 L315.53,504.01 L314.69,503.77 L313.92,503.50 L313.23,503.22 L312.64,502.92 L312.15,502.63 L311.44,502.15 L311.05,501.83 L310.89,501.65 L310.78,501.43 L310.65,500.90 L310.56,499.85Z" fill="#f9c89d"/>
<circle cx="322.0" cy="480.0" r="4.0" fill="#fcd7b7" opacity="0.6"/>
<circle cx="333.0" cy="478.0" r="5.0" fill="#fcd7b7" opacity="0.6"/>
<circle cx="352.0" cy="476.0" r="5.0" fill="#fcd7b7" opacity="0.6"/>
<circle cx="366.0" cy="486.0" r="4.0" fill="#fcd7b7" opacity="0.6"/>
<circle cx="372.0" cy="500.0" r="4.0" fill="#fcd7b7" opacity="0.6"/>
<circle cx="316.0" cy="496.0" r="4.0" fill="#fcd7b7" opacity="0.6"/>
<circle cx="340.0" cy="496.0" r="4.0" fill="#fcd7b7" opacity="0.6"/>
<circle cx="358.0" cy="500.0" r="4.0" fill="#fcd7b7" opacity="0.6"/>
<circle cx="328.0" cy="500.0" r="3.0" fill="#fcd7b7" opacity="0.6"/>
<path d="M315.87,491.66 L314.00,490.19 M317.64,491.21 L314.27,488.18 M318.22,489.88 L315.98,487.27 M318.91,485.26 L320.64,488.41 M320.20,484.08 L322.19,488.11 M322.18,484.42 L323.09,486.39 M324.43,485.54 L323.76,483.97 M326.36,486.20 L324.81,482.12 M327.79,485.40 L326.37,481.78 M329.53,480.99 L330.60,483.88 M330.86,479.73 L332.29,484.09 M332.77,480.11 L333.45,482.82 M335.98,483.13 L336.56,479.09 M336.82,483.45 L338.77,479.70 M341.15,482.77 L339.33,484.47 M342.97,483.20 L339.69,486.36 M343.64,484.62 L341.38,487.11 M343.45,489.40 L346.10,486.85 M344.33,490.86 L347.46,487.68 M346.41,491.13 L347.74,489.56 M348.86,490.54 L347.86,492.07 M350.80,490.21 L348.65,494.05 M351.97,491.16 L350.31,494.60 M353.54,495.62 L354.63,492.63 M354.92,496.82 L356.28,492.45 M356.86,496.37 L357.44,493.73 M360.56,493.52 L360.04,497.62 M362.12,493.67 L361.66,497.83 M364.92,497.42 L365.22,494.85 M366.42,498.58 L366.90,494.04 M368.09,498.10 L368.41,494.85 " fill="none" stroke="#8a6a8a" stroke-width="0.5" opacity="0.6"/>
<path d="M314.30,491.70 L315.37,491.78 L316.36,491.79 L317.19,491.72 L317.81,491.55 L318.20,491.23 L318.39,490.75 L318.42,490.08 L318.37,489.24 L318.34,488.24 L318.37,487.17 L318.48,486.13 L318.67,485.20 L319.01,484.46 L319.46,483.96 L320.07,483.71 L320.79,483.75 L321.60,484.01 L322.50,484.45 L323.40,485.00 L324.30,485.57 L325.15,486.06 L325.90,486.42 L326.58,486.56 L327.18,486.44 L327.69,486.03 L328.09,485.38 L328.40,484.52 L328.66,483.53 L328.90,482.48 L329.17,481.47 L329.51,480.59 L329.94,479.89 L330.47,479.45 L331.10,479.29 L331.83,479.42 L332.61,479.80 L333.41,480.39 L334.19,481.12 L334.91,481.90 L335.44,482.65 L335.89,483.28 L336.02,483.68 L336.35,483.88 L336.59,483.79 L337.19,483.61 L337.90,483.30 L338.83,483.01 L339.88,482.79 L340.93,482.65 L341.88,482.61 L342.66,482.68 L343.24,482.91 L343.56,483.26 L343.73,483.84 L343.84,484.68 L343.80,485.67 L343.63,486.71 L343.42,487.76 L343.26,488.75 L343.21,489.62 L343.35,490.35 L343.70,490.89 L344.29,491.25 L345.06,491.37 L346.01,491.33 L347.01,491.10 L348.03,490.77 L348.99,490.39 L349.88,490.08 L350.61,489.89 L351.24,489.92 L351.69,490.18 L352.06,490.69 L352.31,491.42 L352.53,492.34 L352.73,493.37 L352.96,494.42 L353.24,495.39 L353.63,496.23 L354.09,496.83 L354.68,497.18 L355.35,497.23 L356.14,497.01 L356.91,496.52 L357.69,495.85 L358.45,495.09 L359.17,494.34 L359.85,493.68 L360.50,493.21 L361.11,492.99 L361.70,493.05 L362.27,493.39 L362.81,493.99 L363.33,494.79 L363.83,495.71 L364.32,496.67 L364.83,497.55 L365.36,498.28 L365.92,498.78 L366.51,499.01 L367.13,498.95 L367.78,498.61 L368.45,498.03 L369.13,497.29 L369.81,496.47 L370.50,495.67 L371.17,494.97 L371.84,494.48" fill="none" stroke="#dd3a30" stroke-width="1.20"/>
<path d="M314.30,491.70 L314.01,490.70 L313.76,489.74 L313.69,488.87 L313.85,488.12 L314.27,487.55 L314.94,487.18 L315.81,487.05 L316.81,487.14 L317.83,487.45 L318.82,487.88 L319.75,488.30 L320.60,488.62 L321.33,488.79 L321.94,488.73 L322.40,488.42 L322.77,487.86 L323.05,487.08 L323.25,486.14 L323.45,485.10 L323.66,484.05 L323.92,483.09 L324.28,482.28 L324.73,481.70 L325.27,481.40 L325.88,481.37 L326.60,481.59 L327.41,482.00 L328.28,482.56 L329.16,483.16 L330.02,483.74 L330.81,484.21 L331.52,484.50 L332.13,484.55 L332.65,484.34 L333.08,483.87 L333.46,483.16 L333.83,482.29 L334.23,481.33 L334.71,480.37 L335.38,479.52 L336.14,478.90 L337.21,478.64 L338.04,478.76 L338.91,479.32 L339.36,480.09 L339.63,481.11 L339.61,482.18 L339.44,483.23 L339.23,484.24 L339.10,485.17 L339.14,485.98 L339.39,486.62 L339.93,487.12 L340.65,487.35 L341.45,487.31 L342.37,487.13 L343.41,486.94 L344.46,486.75 L345.46,486.63 L346.34,486.63 L347.04,486.77 L347.54,487.09 L347.80,487.58 L347.91,488.29 L347.87,489.13 L347.79,490.13 L347.73,491.19 L347.77,492.25 L347.90,493.21 L348.21,494.02 L348.63,494.58 L349.24,494.90 L349.95,494.93 L350.78,494.72 L351.66,494.30 L352.57,493.76 L353.46,493.17 L354.30,492.62 L355.05,492.21 L355.73,491.99 L356.28,492.02 L356.77,492.32 L357.14,492.86 L357.55,493.62 L357.95,494.53 L358.38,495.50 L358.84,496.45 L359.36,497.28 L359.91,497.90 L360.50,498.27 L361.11,498.35 L361.74,498.14 L362.39,497.67 L363.07,497.01 L363.77,496.24 L364.48,495.44 L365.17,494.70 L365.84,494.11 L366.47,493.74 L367.08,493.64 L367.66,493.83 L368.21,494.29 L368.75,494.99 L369.27,495.84 L369.78,496.78 L370.30,497.70 L370.83,498.51 L371.36,499.12" fill="none" stroke="#2a70b0" stroke-width="1.20"/>
<circle cx="42.75" cy="432.29" r="3.00" fill="#bf953f"/><circle cx="43.07" cy="429.31" r="3.00" fill="#bf953f"/><circle cx="43.90" cy="426.09" r="3.00" fill="#bf953f"/><circle cx="44.90" cy="422.96" r="3.00" fill="#bf953f"/><circle cx="46.20" cy="420.13" r="3.00" fill="#bf953f"/><circle cx="48.02" cy="417.64" r="3.00" fill="#bf953f"/><circle cx="50.32" cy="415.34" r="3.00" fill="#bf953f"/><circle cx="52.82" cy="413.62" r="3.00" fill="#bf953f"/><circle cx="55.58" cy="412.46" r="3.00" fill="#bf953f"/><circle cx="58.94" cy="411.50" r="3.00" fill="#bf953f"/><circle cx="62.26" cy="410.74" r="3.00" fill="#bf953f"/><circle cx="65.30" cy="410.24" r="3.00" fill="#bf953f"/><circle cx="68.47" cy="409.77" r="3.00" fill="#bf953f"/><circle cx="71.62" cy="409.25" r="3.00" fill="#bf953f"/><circle cx="74.92" cy="408.54" r="3.00" fill="#bf953f"/><circle cx="77.88" cy="407.90" r="3.00" fill="#bf953f"/><circle cx="80.96" cy="407.59" r="3.00" fill="#bf953f"/><circle cx="84.37" cy="407.83" r="3.00" fill="#bf953f"/><circle cx="87.58" cy="408.47" r="3.00" fill="#bf953f"/><circle cx="90.54" cy="409.52" r="3.00" fill="#bf953f"/><circle cx="93.37" cy="411.19" r="3.00" fill="#bf953f"/><circle cx="96.11" cy="413.18" r="3.00" fill="#bf953f"/><circle cx="98.56" cy="415.21" r="3.00" fill="#bf953f"/><circle cx="101.20" cy="417.30" r="3.00" fill="#bf953f"/><circle cx="103.84" cy="419.27" r="3.00" fill="#bf953f"/><circle cx="106.06" cy="421.34" r="3.00" fill="#bf953f"/><circle cx="107.57" cy="424.15" r="3.00" fill="#bf953f"/><circle cx="107.37" cy="427.14" r="3.00" fill="#bf953f"/><circle cx="106.18" cy="429.96" r="3.00" fill="#bf953f"/><circle cx="104.14" cy="432.73" r="3.00" fill="#bf953f"/><circle cx="101.87" cy="434.93" r="3.00" fill="#bf953f"/><circle cx="99.14" cy="435.90" r="3.00" fill="#bf953f"/><circle cx="95.88" cy="434.96" r="3.00" fill="#bf953f"/><circle cx="92.69" cy="433.79" r="3.00" fill="#bf953f"/><circle cx="89.74" cy="432.88" r="3.00" fill="#bf953f"/><circle cx="86.41" cy="432.04" r="3.00" fill="#bf953f"/><circle cx="83.33" cy="431.31" r="3.00" fill="#bf953f"/><circle cx="80.12" cy="430.70" r="3.00" fill="#bf953f"/><circle cx="76.88" cy="430.31" r="3.00" fill="#bf953f"/><circle cx="73.60" cy="430.21" r="3.00" fill="#bf953f"/><circle cx="70.37" cy="430.34" r="3.00" fill="#bf953f"/><circle cx="67.20" cy="430.64" r="3.00" fill="#bf953f"/><circle cx="64.06" cy="431.02" r="3.00" fill="#bf953f"/><circle cx="60.84" cy="431.58" r="3.00" fill="#bf953f"/><circle cx="57.66" cy="432.30" r="3.00" fill="#bf953f"/><circle cx="54.67" cy="432.99" r="3.00" fill="#bf953f"/><circle cx="51.70" cy="433.52" r="3.00" fill="#bf953f"/><circle cx="48.34" cy="433.82" r="3.00" fill="#bf953f"/><circle cx="45.22" cy="433.79" r="3.00" fill="#bf953f"/><circle cx="42.75" cy="432.29" r="2.00" fill="#e4c063"/><circle cx="43.07" cy="429.31" r="2.00" fill="#e4c063"/><circle cx="43.90" cy="426.09" r="2.00" fill="#e4c063"/><circle cx="44.90" cy="422.96" r="2.00" fill="#e4c063"/><circle cx="46.20" cy="420.13" r="2.00" fill="#e4c063"/><circle cx="48.02" cy="417.64" r="2.00" fill="#e4c063"/><circle cx="50.32" cy="415.34" r="2.00" fill="#e4c063"/><circle cx="52.82" cy="413.62" r="2.00" fill="#e4c063"/><circle cx="55.58" cy="412.46" r="2.00" fill="#e4c063"/><circle cx="58.94" cy="411.50" r="2.00" fill="#e4c063"/><circle cx="62.26" cy="410.74" r="2.00" fill="#e4c063"/><circle cx="65.30" cy="410.24" r="2.00" fill="#e4c063"/><circle cx="68.47" cy="409.77" r="2.00" fill="#e4c063"/><circle cx="71.62" cy="409.25" r="2.00" fill="#e4c063"/><circle cx="74.92" cy="408.54" r="2.00" fill="#e4c063"/><circle cx="77.88" cy="407.90" r="2.00" fill="#e4c063"/><circle cx="80.96" cy="407.59" r="2.00" fill="#e4c063"/><circle cx="84.37" cy="407.83" r="2.00" fill="#e4c063"/><circle cx="87.58" cy="408.47" r="2.00" fill="#e4c063"/><circle cx="90.54" cy="409.52" r="2.00" fill="#e4c063"/><circle cx="93.37" cy="411.19" r="2.00" fill="#e4c063"/><circle cx="96.11" cy="413.18" r="2.00" fill="#e4c063"/><circle cx="98.56" cy="415.21" r="2.00" fill="#e4c063"/><circle cx="101.20" cy="417.30" r="2.00" fill="#e4c063"/><circle cx="103.84" cy="419.27" r="2.00" fill="#e4c063"/><circle cx="106.06" cy="421.34" r="2.00" fill="#e4c063"/><circle cx="107.57" cy="424.15" r="2.00" fill="#e4c063"/><circle cx="107.37" cy="427.14" r="2.00" fill="#e4c063"/><circle cx="106.18" cy="429.96" r="2.00" fill="#e4c063"/><circle cx="104.14" cy="432.73" r="2.00" fill="#e4c063"/><circle cx="101.87" cy="434.93" r="2.00" fill="#e4c063"/><circle cx="99.14" cy="435.90" r="2.00" fill="#e4c063"/><circle cx="95.88" cy="434.96" r="2.00" fill="#e4c063"/><circle cx="92.69" cy="433.79" r="2.00" fill="#e4c063"/><circle cx="89.74" cy="432.88" r="2.00" fill="#e4c063"/><circle cx="86.41" cy="432.04" r="2.00" fill="#e4c063"/><circle cx="83.33" cy="431.31" r="2.00" fill="#e4c063"/><circle cx="80.12" cy="430.70" r="2.00" fill="#e4c063"/><circle cx="76.88" cy="430.31" r="2.00" fill="#e4c063"/><circle cx="73.60" cy="430.21" r="2.00" fill="#e4c063"/><circle cx="70.37" cy="430.34" r="2.00" fill="#e4c063"/><circle cx="67.20" cy="430.64" r="2.00" fill="#e4c063"/><circle cx="64.06" cy="431.02" r="2.00" fill="#e4c063"/><circle cx="60.84" cy="431.58" r="2.00" fill="#e4c063"/><circle cx="57.66" cy="432.30" r="2.00" fill="#e4c063"/><circle cx="54.67" cy="432.99" r="2.00" fill="#e4c063"/><circle cx="51.70" cy="433.52" r="2.00" fill="#e4c063"/><circle cx="48.34" cy="433.82" r="2.00" fill="#e4c063"/><circle cx="45.22" cy="433.79" r="2.00" fill="#e4c063"/><path d="M42.75,432.29 L42.73,431.93 L42.76,431.22 L42.88,430.32 L43.07,429.31 L43.32,428.23 L43.60,427.15 L43.90,426.09 L44.17,425.19 L44.45,424.29 L44.75,423.40 L45.07,422.53 L45.41,421.69 L45.79,420.89 L46.20,420.13 L46.67,419.40 L47.17,418.71 L47.73,418.00 L48.33,417.29 L48.96,416.61 L49.63,415.96 L50.32,415.34 L51.03,414.77 L51.75,414.26 L52.47,413.82 L53.18,413.43 L53.94,413.08 L54.74,412.76 L55.58,412.46 L56.48,412.17 L57.43,411.90 L58.42,411.63 L59.47,411.36 L60.43,411.12 L61.32,410.93 L62.26,410.74 L63.24,410.57 L64.26,410.40 L65.30,410.24 L66.35,410.08 L67.41,409.93 L68.47,409.77 L69.51,409.61 L70.54,409.45 L71.62,409.25 L72.75,409.02 L73.86,408.78 L74.92,408.54 L75.94,408.30 L76.93,408.09 L77.88,407.90 L78.78,407.76 L79.65,407.65 L80.49,407.60 L81.45,407.59 L82.42,407.63 L83.40,407.71 L84.37,407.83 L85.32,407.98 L86.25,408.16 L87.15,408.37 L87.99,408.58 L88.87,408.84 L89.74,409.17 L90.54,409.52 L91.32,409.93 L92.10,410.39 L92.94,410.91 L93.82,411.48 L94.57,412.00 L95.33,412.56 L96.11,413.18 L96.91,413.83 L97.73,414.51 L98.56,415.21 L99.41,415.91 L100.29,416.61 L101.20,417.30 L102.12,417.97 L103.01,418.63 L103.84,419.27 L104.59,419.88 L105.23,420.44 L105.73,420.96 L106.35,421.71 L106.84,422.38 L107.18,422.99 L107.42,423.56 L107.57,424.15 L107.64,424.80 L107.63,425.51 L107.54,426.30 L107.37,427.14 L107.11,428.00 L106.76,428.86 L106.39,429.61 L105.95,430.34 L105.40,431.14 L104.79,431.95 L104.14,432.73 L103.49,433.46 L102.86,434.08 L102.29,434.59 L101.49,435.24 L100.93,435.64 L100.55,435.82 L100.09,435.92 L99.14,435.90 L98.69,435.83 L98.03,435.68 L97.24,435.44 L96.35,435.13 L95.39,434.78 L94.35,434.39 L93.26,433.99 L92.11,433.59 L90.93,433.21 L89.74,432.88 L88.81,432.65 L87.87,432.41 L86.90,432.16 L85.91,431.92 L84.89,431.67 L83.85,431.43 L82.80,431.20 L81.73,430.98 L80.66,430.79 L79.58,430.61 L78.50,430.47 L77.42,430.35 L76.33,430.27 L75.23,430.22 L74.14,430.21 L73.06,430.22 L71.98,430.25 L70.91,430.31 L69.84,430.38 L68.78,430.48 L67.73,430.58 L66.68,430.70 L65.64,430.82 L64.59,430.95 L63.54,431.10 L62.46,431.27 L61.38,431.47 L60.30,431.70 L59.23,431.93 L58.18,432.18 L57.14,432.42 L56.13,432.66 L55.15,432.88 L54.21,433.09 L53.31,433.26 L52.48,433.41 L51.70,433.52 L50.53,433.65 L49.41,433.75 L48.34,433.82 L47.33,433.85 L46.41,433.85 L45.59,433.82 L44.87,433.75 L44.35,433.66 L43.67,433.47 L43.13,433.20 L42.98,433.06 L42.82,432.66Z" fill="#e4c063"/>
<path d="M46.81,423.12 L45.72,421.27 M48.82,423.41 L46.47,419.37 M50.32,422.84 L47.75,418.34 M51.25,421.33 L49.61,418.30 M52.66,416.98 L53.93,419.80 M53.78,415.41 L55.74,420.09 M55.38,414.89 L57.12,419.43 M57.32,415.41 L58.18,417.80 M61.49,417.25 L59.97,413.64 M63.22,417.26 L61.20,412.40 M64.46,416.27 L62.94,412.22 M66.68,412.46 L66.88,414.39 M68.88,411.25 L67.87,415.70 M71.13,411.75 L68.61,416.32 M72.32,413.53 L70.06,416.33 M72.53,418.16 L74.54,416.04 M72.91,419.94 L76.51,416.45 M73.70,420.87 L77.72,418.00 M75.49,421.54 L77.73,419.98 M79.75,421.36 L77.95,424.66 M81.14,421.15 L79.49,426.13 M82.29,421.86 L81.44,426.22 M83.57,423.46 L83.31,425.18 M84.91,425.40 L85.14,423.68 M86.33,426.94 L86.90,422.53 M87.77,427.54 L88.62,422.37 M89.38,427.10 L90.16,423.42 M93.19,424.64 L92.58,427.31 M94.93,423.89 L93.98,428.73 M96.33,424.08 L95.73,429.06 M97.68,425.23 L97.57,428.15 M100.89,428.47 L100.76,424.86 " fill="none" stroke="#8a6a8a" stroke-width="0.5" opacity="0.6"/>
<path d="M45.40,422.70 L46.31,423.07 L47.20,423.39 L48.03,423.63 L48.80,423.75 L49.47,423.74 L50.06,423.57 L50.55,423.23 L50.93,422.74 L51.24,422.09 L51.47,421.32 L51.67,420.44 L51.84,419.50 L52.04,418.53 L52.27,417.59 L52.55,416.71 L52.88,415.95 L53.30,415.32 L53.80,414.85 L54.38,414.57 L55.01,414.48 L55.72,414.57 L56.48,414.82 L57.26,415.21 L58.08,415.69 L58.90,416.21 L59.75,416.71 L60.59,417.15 L61.40,417.49 L62.15,417.71 L62.82,417.77 L63.42,417.68 L63.89,417.42 L64.32,416.99 L64.70,416.40 L65.03,415.68 L65.36,414.86 L65.72,413.98 L66.15,413.09 L66.69,412.25 L67.35,411.53 L68.34,411.03 L69.23,410.77 L70.30,410.87 L71.05,411.16 L71.80,411.76 L72.22,412.45 L72.53,413.33 L72.62,414.23 L72.61,415.21 L72.53,416.19 L72.42,417.16 L72.35,418.09 L72.39,418.99 L72.51,419.75 L72.61,420.28 L72.72,420.62 L73.08,420.97 L73.56,421.21 L74.23,421.44 L75.05,421.63 L75.99,421.77 L76.99,421.81 L77.97,421.74 L78.85,421.54 L79.56,421.24 L80.23,420.99 L80.63,420.75 L81.14,420.69 L81.60,420.80 L82.04,421.08 L82.41,421.52 L82.86,422.12 L83.32,422.85 L83.79,423.66 L84.28,424.51 L84.77,425.35 L85.28,426.14 L85.81,426.83 L86.33,427.38 L86.86,427.76 L87.40,427.97 L87.96,427.99 L88.49,427.82 L89.15,427.52 L89.85,427.07 L90.57,426.53 L91.32,425.92 L92.08,425.30 L92.84,424.71 L93.57,424.19 L94.25,423.78 L94.87,423.50 L95.46,423.39 L95.97,423.44 L96.44,423.68 L96.89,424.08 L97.41,424.63 L97.93,425.29 L98.50,426.03 L99.10,426.80 L99.72,427.56 L100.34,428.26 L100.98,428.85 L101.61,429.30 L102.20,429.59 L102.73,429.70" fill="none" stroke="#dd3a30" stroke-width="1.30"/>
<path d="M45.40,422.70 L45.53,421.73 L45.68,420.81 L45.88,419.96 L46.15,419.23 L46.52,418.64 L46.97,418.21 L47.53,417.95 L48.19,417.85 L48.93,417.92 L49.76,418.11 L50.62,418.43 L51.51,418.82 L52.39,419.26 L53.25,419.68 L54.06,420.06 L54.83,420.33 L55.51,420.49 L56.12,420.49 L56.66,420.32 L57.14,419.97 L57.56,419.45 L57.92,418.78 L58.27,417.98 L58.58,417.10 L58.89,416.17 L59.16,415.24 L59.43,414.35 L59.73,413.54 L60.09,412.86 L60.53,412.33 L61.04,411.96 L61.68,411.76 L62.37,411.76 L63.12,411.93 L63.92,412.27 L64.74,412.73 L65.54,413.30 L66.29,413.93 L66.93,414.59 L67.47,415.24 L67.68,415.81 L67.97,416.28 L68.05,416.55 L68.39,416.74 L68.69,416.74 L69.26,416.72 L69.90,416.58 L70.73,416.44 L71.63,416.27 L72.59,416.12 L73.56,415.98 L74.49,415.88 L75.32,415.82 L76.10,415.86 L76.86,416.16 L77.54,416.73 L77.93,417.32 L78.14,418.06 L78.14,418.83 L77.99,419.63 L77.75,420.48 L77.49,421.38 L77.31,422.35 L77.30,423.36 L77.54,424.39 L77.91,425.26 L78.59,426.03 L79.21,426.49 L79.89,426.74 L80.61,426.76 L81.42,426.58 L82.15,426.20 L82.87,425.68 L83.59,425.05 L84.30,424.37 L84.99,423.68 L85.67,423.05 L86.34,422.51 L87.01,422.11 L87.67,421.88 L88.32,421.84 L88.95,422.01 L89.60,422.39 L90.12,422.94 L90.59,423.64 L91.04,424.45 L91.46,425.33 L91.87,426.22 L92.28,427.09 L92.73,427.88 L93.22,428.55 L93.77,429.07 L94.36,429.41 L95.03,429.55 L95.75,429.47 L96.50,429.20 L97.18,428.73 L97.86,428.11 L98.50,427.39 L99.10,426.61 L99.68,425.84 L100.25,425.11 L100.82,424.47 L101.39,423.97 L102.00,423.64 L102.67,423.50" fill="none" stroke="#2a70b0" stroke-width="1.30"/>
<circle cx="631.70" cy="293.00" r="12.3" fill="#b8700c" stroke="#a9650a" stroke-width="0.9"/>
<circle cx="630.50" cy="291.60" r="10.6" fill="#de8a12"/>
<circle cx="628.20" cy="288.00" r="2" fill="#eeb45c" opacity="0.8"/>
<circle cx="656.40" cy="294.80" r="12.3" fill="#56739f" stroke="#4c6791" stroke-width="0.9"/>
<circle cx="655.20" cy="293.40" r="10.6" fill="#6d8cc0"/>
<circle cx="652.90" cy="289.80" r="2" fill="#9ab2d8" opacity="0.8"/>
<circle cx="646.50" cy="273.80" r="12.3" fill="#3b5691" stroke="#31497e" stroke-width="0.9"/>
<circle cx="645.30" cy="272.40" r="10.6" fill="#4c6bab"/>
<circle cx="643.00" cy="268.80" r="2" fill="#7f98c8" opacity="0.8"/>
<text x="276.55" y="355.60" font-size="16.13" font-weight="bold" fill="#111111" textLength="109.74" lengthAdjust="spacingAndGlyphs">Arginosuccinate</text>
<text x="413.26" y="355.20" font-size="20.35" font-weight="bold" fill="#111111" textLength="132.94" lengthAdjust="spacingAndGlyphs">Citrulline-Nitric</text>
<text x="431.79" y="378.20" font-size="20.35" font-weight="bold" fill="#111111" textLength="95.97" lengthAdjust="spacingAndGlyphs">oxide cycle</text>
<text x="595.87" y="453.60" font-size="15.55" font-weight="normal" fill="#111111" textLength="69.95" lengthAdjust="spacingAndGlyphs">NADPH + O</text>
<text x="666.14" y="455.30" font-size="9.16" font-weight="normal" fill="#111111" textLength="5.13" lengthAdjust="spacingAndGlyphs">2</text>
<text x="80.33" y="530.20" font-size="14.97" font-weight="normal" fill="#111111" textLength="28.00" lengthAdjust="spacingAndGlyphs">Urea</text>
<text x="47.28" y="50.00" font-size="27.33" font-weight="bold" fill="#111111" textLength="72.60" lengthAdjust="spacingAndGlyphs">Kidney</text>
<text x="292.12" y="100.90" font-size="19.91" font-weight="bold" fill="#111111" textLength="95.76" lengthAdjust="spacingAndGlyphs">L-Citrulline</text>
<g font-family="Liberation Sans, sans-serif"><g stroke="#333" stroke-width="1.3" fill="none">
<path d="M294.9,556.3 L294.9,571 M296.9,556.3 L296.9,571"/>
<path d="M295.9,571.5 L282.1,578.5 M295.9,571.5 L304.4,575.8 M313.6,575.8 L321.2,571.5 L334.2,578.5 L347.7,571.5 L360.2,578.5 L373.8,571.5 L385.3,578"/>
<path d="M372.3,556.3 L372.3,571.5 M374.4,556.3 L374.4,571"/>
</g>
<polygon points="360.2,578.5 358.8,591 361.6,591" fill="#333"/>
<text x="291.80" y="554.40" font-size="10.00" fill="#1a6fbd" stroke="#1a6fbd" stroke-width="0.3">N</text>
<text x="299.50" y="554.40" font-size="10.00" fill="#333" stroke="#333" stroke-width="0.3">H</text>
<text x="261.00" y="581.80" font-size="10.00" fill="#333" stroke="#333" stroke-width="0.3">H</text>
<text x="268.00" y="584.50" font-size="6.50" fill="#333" stroke="#333" stroke-width="0.3">2</text>
<text x="271.80" y="581.80" font-size="10.00" fill="#1a6fbd" stroke="#1a6fbd" stroke-width="0.3">N</text>
<text x="305.20" y="581.80" font-size="10.00" fill="#1a6fbd" stroke="#1a6fbd" stroke-width="0.3">N</text>
<text x="305.30" y="591.00" font-size="10.00" fill="#333" stroke="#333" stroke-width="0.3">H</text>
<text x="369.30" y="554.40" font-size="10.00" fill="#e0302c" stroke="#e0302c" stroke-width="0.3">O</text>
<text x="387.80" y="581.80" font-size="10.00" fill="#e0302c" stroke="#e0302c" stroke-width="0.3">OH</text>
<text x="357.40" y="601.80" font-size="10.00" fill="#1a6fbd" stroke="#1a6fbd" stroke-width="0.3">N</text>
<text x="365.00" y="601.80" font-size="10.00" fill="#333" stroke="#333" stroke-width="0.3">H</text>
<text x="372.30" y="604.50" font-size="6.50" fill="#333" stroke="#333" stroke-width="0.3">2</text>
</g>
<rect x="94.75" y="151.95" width="48.50" height="30.40" rx="15.20" fill="#fff" stroke="#139488" stroke-width="3.50"/>
<text x="102.05" y="174.60" font-size="16.86" font-weight="bold" fill="#1d4f8f" textLength="35.72" lengthAdjust="spacingAndGlyphs">CPS1</text>
<rect x="61.85" y="218.45" width="48.30" height="29.80" rx="14.90" fill="#fff" stroke="#139488" stroke-width="3.50"/>
<text x="68.25" y="238.00" font-size="16.86" font-weight="bold" fill="#1d4f8f" textLength="28.90" lengthAdjust="spacingAndGlyphs">OTC</text>
<path d="M127.2,186 C131,204 150,214 174,207" fill="none" stroke="#e8892b" stroke-width="2.2"/>
<polygon points="180.00,205.00 172.88,211.13 172.79,207.00 170.74,203.42" fill="#e8892b"/>
<path d="M115,230.2 C122,231 128,230 133,228" fill="none" stroke="#e8892b" stroke-width="2.2"/>
<polygon points="137.50,226.50 131.97,232.03 131.66,228.45 129.75,225.39" fill="#e8892b"/>
<rect x="617.15" y="340.25" width="73.20" height="24.90" rx="12.45" fill="#fff" stroke="#c23a9c" stroke-width="3.50"/>
<text x="631.19" y="359.50" font-size="16.13" font-weight="bold" fill="#1d4f8f" textLength="41.49" lengthAdjust="spacingAndGlyphs">eNOS</text>
<text x="605.48" y="257.80" font-size="16.13" font-weight="bold" fill="#111111" textLength="76.72" lengthAdjust="spacingAndGlyphs">Nitric oxide</text>
<text x="312.46" y="325.30" font-size="15.12" font-weight="bold" fill="#1d4f8f" textLength="28.34" lengthAdjust="spacingAndGlyphs">ASS</text>
<text x="313.96" y="436.30" font-size="14.53" font-weight="bold" fill="#1d4f8f" textLength="27.15" lengthAdjust="spacingAndGlyphs">ASL</text>
<text x="108.75" y="559.60" font-size="15.26" font-weight="bold" fill="#1d4f8f" textLength="59.73" lengthAdjust="spacingAndGlyphs">Arginase</text>
<text x="161.64" y="589.00" font-size="15.41" font-weight="normal" fill="#111111" textLength="9.54" lengthAdjust="spacingAndGlyphs">H</text>
<text x="171.35" y="590.80" font-size="9.50" font-weight="normal" fill="#111111" textLength="5.01" lengthAdjust="spacingAndGlyphs">2</text>
<text x="176.05" y="589.00" font-size="15.41" font-weight="normal" fill="#111111" textLength="9.54" lengthAdjust="spacingAndGlyphs">O</text>
<rect x="83.90" y="165.20" width="2.20" height="27.40" fill="url(#g_e5282e_u)"/>
<polygon points="85.00,155.00 80.00,165.70 90.00,165.70" fill="#e5282e"/>
<rect x="54.90" y="225.90" width="2.20" height="27.70" fill="url(#g_e5282e_u)"/>
<polygon points="56.00,215.70 51.00,226.40 61.00,226.40" fill="#e5282e"/>
<rect x="27.50" y="385.50" width="2.20" height="26.40" fill="url(#g_e5282e_u)"/>
<polygon points="28.60,375.00 23.60,386.00 33.60,386.00" fill="#e5282e"/>
<rect x="304.60" y="291.30" width="2.20" height="26.40" fill="url(#g_e5282e_d)"/>
<polygon points="305.70,328.40 300.70,317.20 310.70,317.20" fill="#e5282e"/>
<rect x="304.60" y="393.00" width="2.20" height="27.50" fill="url(#g_e5282e_d)"/>
<polygon points="305.70,430.00 300.70,420.00 310.70,420.00" fill="#e5282e"/>
<rect x="295.40" y="482.50" width="2.20" height="25.80" fill="url(#g_e5282e_u)"/>
<polygon points="296.50,472.70 291.50,483.00 301.50,483.00" fill="#e5282e"/>
<rect x="596.30" y="244.90" width="2.20" height="25.80" fill="url(#g_e5282e_u)"/>
<polygon points="597.40,234.30 592.40,245.40 602.40,245.40" fill="#e5282e"/>
<rect x="608.30" y="344.20" width="2.20" height="26.20" fill="url(#g_e5282e_u)"/>
<polygon points="609.40,334.00 604.40,344.70 614.40,344.70" fill="#e5282e"/>
<g transform="translate(723.00,0.00)">
<path d="M70.9,371 C70.9,247 163,197.7 225,197.7 C230,197.7 267.9,195.8 309,222.5" fill="none" stroke="#e8892b" stroke-width="3.0" stroke-dasharray="16.25 16.25 15.75 16.25 15.50 16.25 16.50 15.25 15.75 16.25 15.25 15.00 15.75 15.00 15.00 15.25 15.00 15.25 14.75 15.75 15.25 200.00" stroke-dashoffset="0"/>
<polygon points="311.50,224.00 303.85,222.36 306.69,220.15 308.22,216.89" fill="#e8892b"/>
<path d="M384.3,518.5 A156,166.4 0 1 0 367,219" fill="none" stroke="#111" stroke-width="2.8"/>
<polygon points="362.80,221.20 367.79,214.46 368.68,218.21 371.19,221.15" fill="#111"/>
<polygon points="587.80,301.00 591.60,303.31 589.03,304.28 586.45,305.24" fill="#111"/>
<path d="M318.6,262.5 C306,280 293,305 290,328" fill="none" stroke="#111" stroke-width="2.2"/>
<polygon points="288.80,334.50 286.46,327.03 289.78,328.42 293.37,328.15" fill="#111"/>
<path d="M286.9,373 C288.5,405 298.5,437 315.5,462" fill="none" stroke="#111" stroke-width="2.2"/>
<polygon points="320.00,467.40 312.63,464.76 315.74,462.95 317.69,459.92" fill="#111"/>
<path d="M346,256.7 C395,330 397,400 354,461" fill="none" stroke="#e8892b" stroke-width="2.2"/>
<polygon points="350.30,466.40 350.94,458.60 353.49,461.13 356.92,462.23" fill="#e8892b"/>
<path d="M295,514 C226,551 138,521 99,459.5" fill="none" stroke="#e8892b" stroke-width="2.5"/>
<polygon points="95.10,454.30 102.14,457.73 98.85,459.19 96.58,461.99" fill="#e8892b"/>
<path d="M184.7,570.6 C188,540 172,512 145.6,512 C134,512 126,517 121,523" fill="none" stroke="#e8892b" stroke-width="2.5"/>
<polygon points="117.50,526.70 119.59,519.16 121.63,522.13 124.79,523.85" fill="#e8892b"/>
<path d="M633,439 C606,402 598,365 601,335 C603,305 610,285 619,272" fill="none" stroke="#111" stroke-width="1.4"/>
<polygon points="621.70,268.20 620.99,276.81 618.52,274.48 615.19,273.87" fill="#111"/>
<rect x="302.75" y="176.15" width="72.50" height="25.30" rx="12.65" fill="#fff" stroke="#c23a9c" stroke-width="3.50"/>
<text x="307.95" y="194.30" font-size="14.97" font-weight="bold" fill="#111111" textLength="60.09" lengthAdjust="spacingAndGlyphs">Citrulline</text>
<rect x="302.65" y="516.55" width="72.80" height="25.10" rx="12.55" fill="#fff" stroke="#c23a9c" stroke-width="3.50"/>
<text x="309.96" y="534.60" font-size="15.99" font-weight="bold" fill="#111111" textLength="55.73" lengthAdjust="spacingAndGlyphs">Arginine</text>
<rect x="35.05" y="377.15" width="73.00" height="25.50" rx="12.75" fill="#fff" stroke="#c23a9c" stroke-width="3.50"/>
<text x="39.75" y="394.60" font-size="15.41" font-weight="bold" fill="#111111" textLength="61.53" lengthAdjust="spacingAndGlyphs">Ornithine</text>
<text x="309.22" y="78.30" font-size="18.90" font-weight="bold" fill="#111111" textLength="61.69" lengthAdjust="spacingAndGlyphs">Dietary</text>
<path d="M337.2,112.6 L343.4,112.6 L343.4,129.7 L349.3,129.7 L340.3,149.6 L330.7,129.7 L337.2,129.7Z" fill="#222"/>
<path d="M361,138 L360.5,130 L364,126 L369,126 L374,122 L377.5,117.5 L382,115.5 L387,117.5 L391.5,118 L395,122 L398.5,125.5 L402.5,128 L406,131 L406.5,136 L404.5,138.5 L399,137.5 L393,138 L386,139.5 L378,138 L368,139 Z" fill="#7d5127"/>
<rect x="360.20" y="124.30" width="5.6" height="6" rx="1.3" fill="#8f5e30" stroke="#6b421d" stroke-width="0.6"/>
<rect x="358.40" y="130.00" width="5.6" height="6" rx="1.3" fill="#8f5e30" stroke="#6b421d" stroke-width="0.6"/>
<rect x="361.90" y="133.50" width="5.6" height="6" rx="1.3" fill="#8f5e30" stroke="#6b421d" stroke-width="0.6"/>
<rect x="365.40" y="126.00" width="5.6" height="6" rx="1.3" fill="#8f5e30" stroke="#6b421d" stroke-width="0.6"/>
<rect x="369.40" y="122.00" width="5.6" height="6" rx="1.3" fill="#8f5e30" stroke="#6b421d" stroke-width="0.6"/>
<rect x="370.50" y="131.80" width="5.6" height="6" rx="1.3" fill="#8f5e30" stroke="#6b421d" stroke-width="0.6"/>
<rect x="374.60" y="116.20" width="5.6" height="6" rx="1.3" fill="#8f5e30" stroke="#6b421d" stroke-width="0.6"/>
<rect x="374.60" y="123.10" width="5.6" height="6" rx="1.3" fill="#8f5e30" stroke="#6b421d" stroke-width="0.6"/>
<rect x="375.20" y="128.90" width="5.6" height="6" rx="1.3" fill="#8f5e30" stroke="#6b421d" stroke-width="0.6"/>
<rect x="379.80" y="113.90" width="5.6" height="6" rx="1.3" fill="#8f5e30" stroke="#6b421d" stroke-width="0.6"/>
<rect x="380.30" y="121.40" width="5.6" height="6" rx="1.3" fill="#8f5e30" stroke="#6b421d" stroke-width="0.6"/>
<rect x="379.80" y="134.60" width="5.6" height="6" rx="1.3" fill="#8f5e30" stroke="#6b421d" stroke-width="0.6"/>
<rect x="377.50" y="127.70" width="5.6" height="6" rx="1.3" fill="#8f5e30" stroke="#6b421d" stroke-width="0.6"/>
<rect x="384.40" y="118.50" width="5.6" height="6" rx="1.3" fill="#8f5e30" stroke="#6b421d" stroke-width="0.6"/>
<rect x="385.50" y="127.20" width="5.6" height="6" rx="1.3" fill="#8f5e30" stroke="#6b421d" stroke-width="0.6"/>
<rect x="384.40" y="132.90" width="5.6" height="6" rx="1.3" fill="#8f5e30" stroke="#6b421d" stroke-width="0.6"/>
<rect x="387.80" y="116.80" width="5.6" height="6" rx="1.3" fill="#8f5e30" stroke="#6b421d" stroke-width="0.6"/>
<rect x="389.60" y="124.30" width="5.6" height="6" rx="1.3" fill="#8f5e30" stroke="#6b421d" stroke-width="0.6"/>
<rect x="391.20" y="131.80" width="5.6" height="6" rx="1.3" fill="#8f5e30" stroke="#6b421d" stroke-width="0.6"/>
<rect x="394.20" y="124.30" width="5.6" height="6" rx="1.3" fill="#8f5e30" stroke="#6b421d" stroke-width="0.6"/>
<rect x="395.90" y="131.20" width="5.6" height="6" rx="1.3" fill="#8f5e30" stroke="#6b421d" stroke-width="0.6"/>
<rect x="401.10" y="127.20" width="5.6" height="6" rx="1.3" fill="#8f5e30" stroke="#6b421d" stroke-width="0.6"/>
<rect x="402.80" y="132.30" width="5.6" height="6" rx="1.3" fill="#8f5e30" stroke="#6b421d" stroke-width="0.6"/>
<rect x="351.50" y="132.90" width="5.6" height="6" rx="1.3" fill="#8f5e30" stroke="#6b421d" stroke-width="0.6"/>
<rect x="392.20" y="141.60" width="5.6" height="6" rx="1.3" fill="#8f5e30" stroke="#6b421d" stroke-width="0.6"/>
<circle cx="338.10" cy="207.58" r="2.80" fill="#4e6ec0"/><circle cx="339.08" cy="209.35" r="2.80" fill="#4e6ec0"/><circle cx="339.82" cy="212.18" r="2.80" fill="#4e6ec0"/><circle cx="339.79" cy="215.31" r="2.80" fill="#4e6ec0"/><circle cx="339.98" cy="218.19" r="2.80" fill="#4e6ec0"/><circle cx="340.36" cy="220.96" r="2.80" fill="#4e6ec0"/><circle cx="340.91" cy="223.76" r="2.80" fill="#4e6ec0"/><circle cx="341.97" cy="226.59" r="2.80" fill="#4e6ec0"/><circle cx="343.84" cy="229.10" r="2.80" fill="#4e6ec0"/><circle cx="346.87" cy="230.60" r="2.80" fill="#4e6ec0"/><circle cx="349.60" cy="229.77" r="2.80" fill="#4e6ec0"/><circle cx="351.80" cy="227.70" r="2.80" fill="#4e6ec0"/><circle cx="353.72" cy="224.93" r="2.80" fill="#4e6ec0"/><circle cx="355.52" cy="222.50" r="2.80" fill="#4e6ec0"/><circle cx="357.64" cy="224.13" r="2.80" fill="#4e6ec0"/><circle cx="359.43" cy="226.89" r="2.80" fill="#4e6ec0"/><circle cx="360.98" cy="229.48" r="2.80" fill="#4e6ec0"/><circle cx="362.20" cy="232.02" r="2.80" fill="#4e6ec0"/><circle cx="362.24" cy="235.19" r="2.80" fill="#4e6ec0"/><circle cx="361.14" cy="238.04" r="2.80" fill="#4e6ec0"/><circle cx="360.12" cy="240.68" r="2.80" fill="#4e6ec0"/><circle cx="359.28" cy="243.50" r="2.80" fill="#4e6ec0"/><circle cx="356.68" cy="245.20" r="2.80" fill="#4e6ec0"/><circle cx="353.48" cy="246.12" r="2.80" fill="#4e6ec0"/><circle cx="350.54" cy="247.21" r="2.80" fill="#4e6ec0"/><circle cx="347.76" cy="248.10" r="2.80" fill="#4e6ec0"/><circle cx="344.82" cy="248.29" r="2.80" fill="#4e6ec0"/><circle cx="341.74" cy="247.85" r="2.80" fill="#4e6ec0"/><circle cx="338.93" cy="247.51" r="2.80" fill="#4e6ec0"/><circle cx="335.53" cy="247.95" r="2.80" fill="#4e6ec0"/><circle cx="332.75" cy="248.12" r="2.80" fill="#4e6ec0"/><circle cx="331.13" cy="245.48" r="2.80" fill="#4e6ec0"/><circle cx="330.31" cy="242.49" r="2.80" fill="#4e6ec0"/><circle cx="330.07" cy="239.51" r="2.80" fill="#4e6ec0"/><circle cx="330.92" cy="236.43" r="2.80" fill="#4e6ec0"/><circle cx="331.58" cy="232.87" r="2.80" fill="#4e6ec0"/><circle cx="330.38" cy="230.00" r="2.80" fill="#4e6ec0"/><circle cx="328.82" cy="227.47" r="2.80" fill="#4e6ec0"/><circle cx="327.25" cy="224.79" r="2.80" fill="#4e6ec0"/><circle cx="326.37" cy="222.09" r="2.80" fill="#4e6ec0"/><circle cx="326.12" cy="219.23" r="2.80" fill="#4e6ec0"/><circle cx="328.08" cy="217.25" r="2.80" fill="#4e6ec0"/><circle cx="330.09" cy="214.91" r="2.80" fill="#4e6ec0"/><circle cx="331.06" cy="211.90" r="2.80" fill="#4e6ec0"/><circle cx="332.78" cy="209.99" r="2.80" fill="#4e6ec0"/><circle cx="335.66" cy="209.31" r="2.80" fill="#4e6ec0"/><circle cx="338.54" cy="207.69" r="2.80" fill="#4e6ec0"/><circle cx="338.10" cy="207.58" r="1.80" fill="#7189c9"/><circle cx="339.08" cy="209.35" r="1.80" fill="#7189c9"/><circle cx="339.82" cy="212.18" r="1.80" fill="#7189c9"/><circle cx="339.79" cy="215.31" r="1.80" fill="#7189c9"/><circle cx="339.98" cy="218.19" r="1.80" fill="#7189c9"/><circle cx="340.36" cy="220.96" r="1.80" fill="#7189c9"/><circle cx="340.91" cy="223.76" r="1.80" fill="#7189c9"/><circle cx="341.97" cy="226.59" r="1.80" fill="#7189c9"/><circle cx="343.84" cy="229.10" r="1.80" fill="#7189c9"/><circle cx="346.87" cy="230.60" r="1.80" fill="#7189c9"/><circle cx="349.60" cy="229.77" r="1.80" fill="#7189c9"/><circle cx="351.80" cy="227.70" r="1.80" fill="#7189c9"/><circle cx="353.72" cy="224.93" r="1.80" fill="#7189c9"/><circle cx="355.52" cy="222.50" r="1.80" fill="#7189c9"/><circle cx="357.64" cy="224.13" r="1.80" fill="#7189c9"/><circle cx="359.43" cy="226.89" r="1.80" fill="#7189c9"/><circle cx="360.98" cy="229.48" r="1.80" fill="#7189c9"/><circle cx="362.20" cy="232.02" r="1.80" fill="#7189c9"/><circle cx="362.24" cy="235.19" r="1.80" fill="#7189c9"/><circle cx="361.14" cy="238.04" r="1.80" fill="#7189c9"/><circle cx="360.12" cy="240.68" r="1.80" fill="#7189c9"/><circle cx="359.28" cy="243.50" r="1.80" fill="#7189c9"/><circle cx="356.68" cy="245.20" r="1.80" fill="#7189c9"/><circle cx="353.48" cy="246.12" r="1.80" fill="#7189c9"/><circle cx="350.54" cy="247.21" r="1.80" fill="#7189c9"/><circle cx="347.76" cy="248.10" r="1.80" fill="#7189c9"/><circle cx="344.82" cy="248.29" r="1.80" fill="#7189c9"/><circle cx="341.74" cy="247.85" r="1.80" fill="#7189c9"/><circle cx="338.93" cy="247.51" r="1.80" fill="#7189c9"/><circle cx="335.53" cy="247.95" r="1.80" fill="#7189c9"/><circle cx="332.75" cy="248.12" r="1.80" fill="#7189c9"/><circle cx="331.13" cy="245.48" r="1.80" fill="#7189c9"/><circle cx="330.31" cy="242.49" r="1.80" fill="#7189c9"/><circle cx="330.07" cy="239.51" r="1.80" fill="#7189c9"/><circle cx="330.92" cy="236.43" r="1.80" fill="#7189c9"/><circle cx="331.58" cy="232.87" r="1.80" fill="#7189c9"/><circle cx="330.38" cy="230.00" r="1.80" fill="#7189c9"/><circle cx="328.82" cy="227.47" r="1.80" fill="#7189c9"/><circle cx="327.25" cy="224.79" r="1.80" fill="#7189c9"/><circle cx="326.37" cy="222.09" r="1.80" fill="#7189c9"/><circle cx="326.12" cy="219.23" r="1.80" fill="#7189c9"/><circle cx="328.08" cy="217.25" r="1.80" fill="#7189c9"/><circle cx="330.09" cy="214.91" r="1.80" fill="#7189c9"/><circle cx="331.06" cy="211.90" r="1.80" fill="#7189c9"/><circle cx="332.78" cy="209.99" r="1.80" fill="#7189c9"/><circle cx="335.66" cy="209.31" r="1.80" fill="#7189c9"/><circle cx="338.54" cy="207.69" r="1.80" fill="#7189c9"/><path d="M338.10,207.58 L337.52,207.48 L338.00,207.94 L338.56,208.59 L339.08,209.35 L339.48,210.14 L339.68,210.76 L339.77,211.37 L339.82,212.18 L339.82,213.14 L339.81,214.19 L339.79,215.31 L339.82,216.49 L339.91,217.64 L340.05,218.73 L340.20,219.83 L340.36,220.96 L340.56,222.10 L340.78,223.22 L341.06,224.30 L341.41,225.36 L341.97,226.59 L342.81,227.93 L343.84,229.10 L345.10,230.04 L346.87,230.60 L348.82,230.21 L350.24,229.27 L351.31,228.23 L352.28,227.16 L353.06,226.08 L353.72,224.93 L354.27,223.90 L354.71,223.17 L354.98,222.86 L355.52,222.50 L355.85,222.35 L356.04,222.37 L356.23,222.51 L356.53,222.80 L357.05,223.38 L357.64,224.13 L358.24,224.99 L358.85,225.93 L359.43,226.89 L359.93,227.72 L360.46,228.60 L360.98,229.48 L361.46,230.36 L361.87,231.21 L362.20,232.02 L362.41,232.74 L362.50,233.34 L362.49,234.00 L362.35,234.76 L362.10,235.63 L361.75,236.57 L361.35,237.55 L360.92,238.54 L360.51,239.55 L360.12,240.68 L359.78,241.84 L359.52,242.80 L359.28,243.50 L359.04,243.96 L358.73,244.31 L358.41,244.54 L357.86,244.80 L357.12,245.07 L356.20,245.33 L355.17,245.61 L354.05,245.93 L352.98,246.29 L351.99,246.66 L351.02,247.03 L350.06,247.39 L349.12,247.71 L348.21,247.98 L347.33,248.19 L346.49,248.31 L345.71,248.34 L344.82,248.29 L343.85,248.18 L342.82,248.02 L341.74,247.85 L340.64,247.68 L339.53,247.55 L338.33,247.50 L336.86,247.64 L335.53,247.95 L334.46,248.26 L333.69,248.46 L333.32,248.51 L333.21,248.49 L332.96,248.31 L332.53,247.87 L332.04,247.21 L331.57,246.39 L331.13,245.48 L330.78,244.55 L330.56,243.82 L330.38,242.96 L330.24,242.00 L330.15,240.99 L330.09,240.00 L330.07,239.05 L330.08,238.28 L330.11,237.71 L330.35,237.25 L330.92,236.43 L331.59,234.81 L331.58,232.87 L331.17,231.56 L330.67,230.51 L330.09,229.49 L329.46,228.47 L328.82,227.47 L328.21,226.50 L327.67,225.59 L327.25,224.79 L326.96,224.11 L326.64,223.10 L326.37,222.09 L326.19,221.15 L326.10,220.29 L326.09,219.55 L326.15,219.02 L326.21,218.72 L326.48,218.42 L327.10,217.94 L328.08,217.25 L329.21,216.24 L330.09,214.91 L330.60,213.60 L330.93,212.42 L331.19,211.43 L331.40,210.75 L331.44,210.60 L331.78,210.31 L332.34,210.11 L333.26,209.86 L334.18,209.57 L335.10,209.40 L336.42,209.12 L338.03,208.24 L338.67,207.45Z" fill="#7189c9"/>
<circle cx="334.0" cy="214.0" r="3.0" fill="#7f95cf" opacity="0.45"/>
<circle cx="331.0" cy="226.0" r="3.5" fill="#7f95cf" opacity="0.45"/>
<circle cx="338.0" cy="238.0" r="4.0" fill="#7f95cf" opacity="0.45"/>
<circle cx="355.0" cy="236.0" r="4.0" fill="#7f95cf" opacity="0.45"/>
<circle cx="346.0" cy="244.0" r="3.0" fill="#7f95cf" opacity="0.45"/>
<circle cx="358.0" cy="229.0" r="2.5" fill="#7f95cf" opacity="0.45"/>
<circle cx="336.0" cy="246.0" r="3.0" fill="#7f95cf" opacity="0.45"/>
<circle cx="313.78" cy="369.40" r="3.00" fill="#dc7332"/><circle cx="316.13" cy="367.75" r="3.00" fill="#dc7332"/><circle cx="319.12" cy="367.11" r="3.00" fill="#dc7332"/><circle cx="322.33" cy="368.08" r="3.00" fill="#dc7332"/><circle cx="325.80" cy="368.74" r="3.00" fill="#dc7332"/><circle cx="328.95" cy="367.61" r="3.00" fill="#dc7332"/><circle cx="331.98" cy="367.35" r="3.00" fill="#dc7332"/><circle cx="334.82" cy="368.24" r="3.00" fill="#dc7332"/><circle cx="337.72" cy="369.80" r="3.00" fill="#dc7332"/><circle cx="341.42" cy="370.19" r="3.00" fill="#dc7332"/><circle cx="343.83" cy="368.48" r="3.00" fill="#dc7332"/><circle cx="346.81" cy="367.69" r="3.00" fill="#dc7332"/><circle cx="349.94" cy="367.89" r="3.00" fill="#dc7332"/><circle cx="352.74" cy="368.97" r="3.00" fill="#dc7332"/><circle cx="355.08" cy="370.76" r="3.00" fill="#dc7332"/><circle cx="356.58" cy="373.21" r="3.00" fill="#dc7332"/><circle cx="355.97" cy="376.14" r="3.00" fill="#dc7332"/><circle cx="356.17" cy="379.04" r="3.00" fill="#dc7332"/><circle cx="355.99" cy="381.98" r="3.00" fill="#dc7332"/><circle cx="353.69" cy="384.16" r="3.00" fill="#dc7332"/><circle cx="350.84" cy="384.70" r="3.00" fill="#dc7332"/><circle cx="347.83" cy="383.76" r="3.00" fill="#dc7332"/><circle cx="344.75" cy="384.09" r="3.00" fill="#dc7332"/><circle cx="341.95" cy="385.00" r="3.00" fill="#dc7332"/><circle cx="338.54" cy="384.05" r="3.00" fill="#dc7332"/><circle cx="335.60" cy="384.05" r="3.00" fill="#dc7332"/><circle cx="332.82" cy="384.82" r="3.00" fill="#dc7332"/><circle cx="329.84" cy="385.11" r="3.00" fill="#dc7332"/><circle cx="326.62" cy="384.34" r="3.00" fill="#dc7332"/><circle cx="323.74" cy="383.51" r="3.00" fill="#dc7332"/><circle cx="320.74" cy="382.51" r="3.00" fill="#dc7332"/><circle cx="317.67" cy="381.74" r="3.00" fill="#dc7332"/><circle cx="314.75" cy="380.28" r="3.00" fill="#dc7332"/><circle cx="312.41" cy="378.24" r="3.00" fill="#dc7332"/><circle cx="310.78" cy="375.71" r="3.00" fill="#dc7332"/><circle cx="311.52" cy="372.89" r="3.00" fill="#dc7332"/><circle cx="312.93" cy="370.30" r="3.00" fill="#dc7332"/><circle cx="313.78" cy="369.40" r="2.20" fill="#e8955c"/><circle cx="316.13" cy="367.75" r="2.20" fill="#e8955c"/><circle cx="319.12" cy="367.11" r="2.20" fill="#e8955c"/><circle cx="322.33" cy="368.08" r="2.20" fill="#e8955c"/><circle cx="325.80" cy="368.74" r="2.20" fill="#e8955c"/><circle cx="328.95" cy="367.61" r="2.20" fill="#e8955c"/><circle cx="331.98" cy="367.35" r="2.20" fill="#e8955c"/><circle cx="334.82" cy="368.24" r="2.20" fill="#e8955c"/><circle cx="337.72" cy="369.80" r="2.20" fill="#e8955c"/><circle cx="341.42" cy="370.19" r="2.20" fill="#e8955c"/><circle cx="343.83" cy="368.48" r="2.20" fill="#e8955c"/><circle cx="346.81" cy="367.69" r="2.20" fill="#e8955c"/><circle cx="349.94" cy="367.89" r="2.20" fill="#e8955c"/><circle cx="352.74" cy="368.97" r="2.20" fill="#e8955c"/><circle cx="355.08" cy="370.76" r="2.20" fill="#e8955c"/><circle cx="356.58" cy="373.21" r="2.20" fill="#e8955c"/><circle cx="355.97" cy="376.14" r="2.20" fill="#e8955c"/><circle cx="356.17" cy="379.04" r="2.20" fill="#e8955c"/><circle cx="355.99" cy="381.98" r="2.20" fill="#e8955c"/><circle cx="353.69" cy="384.16" r="2.20" fill="#e8955c"/><circle cx="350.84" cy="384.70" r="2.20" fill="#e8955c"/><circle cx="347.83" cy="383.76" r="2.20" fill="#e8955c"/><circle cx="344.75" cy="384.09" r="2.20" fill="#e8955c"/><circle cx="341.95" cy="385.00" r="2.20" fill="#e8955c"/><circle cx="338.54" cy="384.05" r="2.20" fill="#e8955c"/><circle cx="335.60" cy="384.05" r="2.20" fill="#e8955c"/><circle cx="332.82" cy="384.82" r="2.20" fill="#e8955c"/><circle cx="329.84" cy="385.11" r="2.20" fill="#e8955c"/><circle cx="326.62" cy="384.34" r="2.20" fill="#e8955c"/><circle cx="323.74" cy="383.51" r="2.20" fill="#e8955c"/><circle cx="320.74" cy="382.51" r="2.20" fill="#e8955c"/><circle cx="317.67" cy="381.74" r="2.20" fill="#e8955c"/><circle cx="314.75" cy="380.28" r="2.20" fill="#e8955c"/><circle cx="312.41" cy="378.24" r="2.20" fill="#e8955c"/><circle cx="310.78" cy="375.71" r="2.20" fill="#e8955c"/><circle cx="311.52" cy="372.89" r="2.20" fill="#e8955c"/><circle cx="312.93" cy="370.30" r="2.20" fill="#e8955c"/><path d="M313.78,369.40 L314.39,368.87 L315.08,368.36 L315.78,367.92 L316.47,367.59 L317.13,367.38 L317.86,367.23 L318.69,367.14 L319.53,367.11 L320.25,367.13 L320.74,367.20 L321.31,367.49 L322.33,368.08 L323.93,368.69 L325.80,368.74 L327.31,368.32 L328.47,367.83 L329.38,367.43 L330.02,367.22 L330.54,367.18 L331.21,367.23 L331.98,367.35 L332.83,367.56 L333.71,367.82 L334.47,368.07 L335.21,368.44 L336.12,368.95 L337.15,369.52 L338.34,370.06 L340.19,370.39 L342.37,369.73 L343.51,368.76 L344.17,368.32 L344.63,368.20 L345.49,367.96 L346.38,367.76 L347.22,367.63 L347.97,367.60 L348.71,367.66 L349.52,367.79 L350.36,368.00 L351.18,368.27 L351.93,368.57 L352.74,368.97 L353.51,369.43 L354.21,369.95 L354.82,370.48 L355.33,371.05 L355.81,371.69 L356.22,372.36 L356.50,372.99 L356.62,373.35 L356.62,373.69 L356.45,374.32 L356.12,375.42 L355.90,376.92 L356.03,378.42 L356.29,379.54 L356.43,380.22 L356.42,380.65 L356.27,381.26 L355.99,381.98 L355.64,382.61 L355.17,383.16 L354.73,383.50 L354.06,383.95 L353.31,384.36 L352.56,384.68 L351.95,384.87 L351.61,384.92 L351.18,384.82 L350.40,384.54 L349.29,384.12 L347.83,383.76 L346.18,383.76 L344.75,384.09 L343.61,384.50 L342.74,384.82 L342.15,384.98 L341.75,384.99 L341.21,384.86 L340.37,384.58 L339.23,384.21 L337.79,383.94 L336.28,383.94 L334.97,384.19 L333.83,384.51 L332.82,384.82 L331.96,385.06 L331.26,385.18 L330.61,385.19 L329.84,385.11 L328.98,384.95 L328.07,384.73 L327.11,384.48 L326.14,384.21 L325.17,383.95 L324.21,383.67 L323.27,383.36 L322.31,383.02 L321.29,382.68 L320.19,382.35 L319.09,382.08 L318.11,381.85 L317.26,381.62 L316.53,381.35 L315.85,381.00 L315.13,380.54 L314.37,380.00 L313.64,379.41 L312.98,378.82 L312.41,378.24 L311.79,377.53 L311.30,376.87 L310.98,376.33 L310.82,375.90 L310.78,375.54 L310.85,374.99 L311.04,374.20 L311.34,373.33 L311.69,372.47 L312.06,371.67 L312.48,370.93 L312.93,370.30 L313.47,369.70Z" fill="#e8955c"/>
<circle cx="310.55" cy="499.13" r="3.50" fill="#f5b986"/><circle cx="310.74" cy="495.52" r="3.50" fill="#f5b986"/><circle cx="311.17" cy="491.87" r="3.50" fill="#f5b986"/><circle cx="311.87" cy="488.16" r="3.50" fill="#f5b986"/><circle cx="312.95" cy="484.60" r="3.50" fill="#f5b986"/><circle cx="314.65" cy="481.57" r="3.50" fill="#f5b986"/><circle cx="317.07" cy="478.78" r="3.50" fill="#f5b986"/><circle cx="319.87" cy="476.56" r="3.50" fill="#f5b986"/><circle cx="322.97" cy="475.05" r="3.50" fill="#f5b986"/><circle cx="326.44" cy="474.66" r="3.50" fill="#f5b986"/><circle cx="330.18" cy="474.60" r="3.50" fill="#f5b986"/><circle cx="333.69" cy="474.31" r="3.50" fill="#f5b986"/><circle cx="337.11" cy="473.50" r="3.50" fill="#f5b986"/><circle cx="340.59" cy="472.44" r="3.50" fill="#f5b986"/><circle cx="343.92" cy="471.75" r="3.50" fill="#f5b986"/><circle cx="347.51" cy="472.16" r="3.50" fill="#f5b986"/><circle cx="350.80" cy="473.20" r="3.50" fill="#f5b986"/><circle cx="353.97" cy="474.56" r="3.50" fill="#f5b986"/><circle cx="356.98" cy="476.16" r="3.50" fill="#f5b986"/><circle cx="359.76" cy="478.95" r="3.50" fill="#f5b986"/><circle cx="362.43" cy="481.32" r="3.50" fill="#f5b986"/><circle cx="365.31" cy="483.38" r="3.50" fill="#f5b986"/><circle cx="368.23" cy="485.52" r="3.50" fill="#f5b986"/><circle cx="371.01" cy="488.13" r="3.50" fill="#f5b986"/><circle cx="372.93" cy="491.31" r="3.50" fill="#f5b986"/><circle cx="374.16" cy="494.53" r="3.50" fill="#f5b986"/><circle cx="375.15" cy="498.08" r="3.50" fill="#f5b986"/><circle cx="375.82" cy="501.50" r="3.50" fill="#f5b986"/><circle cx="376.16" cy="505.14" r="3.50" fill="#f5b986"/><circle cx="375.56" cy="508.59" r="3.50" fill="#f5b986"/><circle cx="372.65" cy="509.96" r="3.50" fill="#f5b986"/><circle cx="369.01" cy="509.07" r="3.50" fill="#f5b986"/><circle cx="365.46" cy="507.97" r="3.50" fill="#f5b986"/><circle cx="362.18" cy="506.92" r="3.50" fill="#f5b986"/><circle cx="358.88" cy="505.68" r="3.50" fill="#f5b986"/><circle cx="355.24" cy="504.23" r="3.50" fill="#f5b986"/><circle cx="352.06" cy="502.98" r="3.50" fill="#f5b986"/><circle cx="348.48" cy="501.68" r="3.50" fill="#f5b986"/><circle cx="345.16" cy="500.72" r="3.50" fill="#f5b986"/><circle cx="341.81" cy="500.13" r="3.50" fill="#f5b986"/><circle cx="338.37" cy="499.99" r="3.50" fill="#f5b986"/><circle cx="334.80" cy="500.36" r="3.50" fill="#f5b986"/><circle cx="331.01" cy="501.05" r="3.50" fill="#f5b986"/><circle cx="327.70" cy="502.10" r="3.50" fill="#f5b986"/><circle cx="324.10" cy="503.43" r="3.50" fill="#f5b986"/><circle cx="320.72" cy="504.38" r="3.50" fill="#f5b986"/><circle cx="317.32" cy="504.35" r="3.50" fill="#f5b986"/><circle cx="313.92" cy="503.50" r="3.50" fill="#f5b986"/><circle cx="310.95" cy="501.73" r="3.50" fill="#f5b986"/><circle cx="310.55" cy="499.13" r="2.60" fill="#f9c89d"/><circle cx="310.74" cy="495.52" r="2.60" fill="#f9c89d"/><circle cx="311.17" cy="491.87" r="2.60" fill="#f9c89d"/><circle cx="311.87" cy="488.16" r="2.60" fill="#f9c89d"/><circle cx="312.95" cy="484.60" r="2.60" fill="#f9c89d"/><circle cx="314.65" cy="481.57" r="2.60" fill="#f9c89d"/><circle cx="317.07" cy="478.78" r="2.60" fill="#f9c89d"/><circle cx="319.87" cy="476.56" r="2.60" fill="#f9c89d"/><circle cx="322.97" cy="475.05" r="2.60" fill="#f9c89d"/><circle cx="326.44" cy="474.66" r="2.60" fill="#f9c89d"/><circle cx="330.18" cy="474.60" r="2.60" fill="#f9c89d"/><circle cx="333.69" cy="474.31" r="2.60" fill="#f9c89d"/><circle cx="337.11" cy="473.50" r="2.60" fill="#f9c89d"/><circle cx="340.59" cy="472.44" r="2.60" fill="#f9c89d"/><circle cx="343.92" cy="471.75" r="2.60" fill="#f9c89d"/><circle cx="347.51" cy="472.16" r="2.60" fill="#f9c89d"/><circle cx="350.80" cy="473.20" r="2.60" fill="#f9c89d"/><circle cx="353.97" cy="474.56" r="2.60" fill="#f9c89d"/><circle cx="356.98" cy="476.16" r="2.60" fill="#f9c89d"/><circle cx="359.76" cy="478.95" r="2.60" fill="#f9c89d"/><circle cx="362.43" cy="481.32" r="2.60" fill="#f9c89d"/><circle cx="365.31" cy="483.38" r="2.60" fill="#f9c89d"/><circle cx="368.23" cy="485.52" r="2.60" fill="#f9c89d"/><circle cx="371.01" cy="488.13" r="2.60" fill="#f9c89d"/><circle cx="372.93" cy="491.31" r="2.60" fill="#f9c89d"/><circle cx="374.16" cy="494.53" r="2.60" fill="#f9c89d"/><circle cx="375.15" cy="498.08" r="2.60" fill="#f9c89d"/><circle cx="375.82" cy="501.50" r="2.60" fill="#f9c89d"/><circle cx="376.16" cy="505.14" r="2.60" fill="#f9c89d"/><circle cx="375.56" cy="508.59" r="2.60" fill="#f9c89d"/><circle cx="372.65" cy="509.96" r="2.60" fill="#f9c89d"/><circle cx="369.01" cy="509.07" r="2.60" fill="#f9c89d"/><circle cx="365.46" cy="507.97" r="2.60" fill="#f9c89d"/><circle cx="362.18" cy="506.92" r="2.60" fill="#f9c89d"/><circle cx="358.88" cy="505.68" r="2.60" fill="#f9c89d"/><circle cx="355.24" cy="504.23" r="2.60" fill="#f9c89d"/><circle cx="352.06" cy="502.98" r="2.60" fill="#f9c89d"/><circle cx="348.48" cy="501.68" r="2.60" fill="#f9c89d"/><circle cx="345.16" cy="500.72" r="2.60" fill="#f9c89d"/><circle cx="341.81" cy="500.13" r="2.60" fill="#f9c89d"/><circle cx="338.37" cy="499.99" r="2.60" fill="#f9c89d"/><circle cx="334.80" cy="500.36" r="2.60" fill="#f9c89d"/><circle cx="331.01" cy="501.05" r="2.60" fill="#f9c89d"/><circle cx="327.70" cy="502.10" r="2.60" fill="#f9c89d"/><circle cx="324.10" cy="503.43" r="2.60" fill="#f9c89d"/><circle cx="320.72" cy="504.38" r="2.60" fill="#f9c89d"/><circle cx="317.32" cy="504.35" r="2.60" fill="#f9c89d"/><circle cx="313.92" cy="503.50" r="2.60" fill="#f9c89d"/><circle cx="310.95" cy="501.73" r="2.60" fill="#f9c89d"/><path d="M310.55,499.13 L310.56,498.54 L310.59,497.78 L310.63,496.93 L310.70,496.01 L310.79,495.03 L310.89,494.00 L311.02,492.95 L311.17,491.87 L311.35,490.79 L311.54,489.72 L311.75,488.67 L311.99,487.66 L312.24,486.69 L312.52,485.79 L312.80,484.97 L313.09,484.26 L313.45,483.53 L313.89,482.73 L314.39,481.95 L314.92,481.20 L315.50,480.47 L316.10,479.77 L316.74,479.10 L317.41,478.47 L318.10,477.87 L318.80,477.32 L319.51,476.80 L320.23,476.33 L320.95,475.91 L321.61,475.55 L322.28,475.27 L322.97,475.05 L323.73,474.89 L324.57,474.78 L325.48,474.70 L326.44,474.66 L327.46,474.64 L328.52,474.63 L329.62,474.62 L330.75,474.59 L331.91,474.52 L333.10,474.40 L334.29,474.20 L335.46,473.95 L336.57,473.65 L337.64,473.34 L338.67,473.02 L339.65,472.72 L340.59,472.44 L341.48,472.19 L342.34,471.99 L343.15,471.84 L343.92,471.75 L344.66,471.73 L345.39,471.78 L346.19,471.88 L347.06,472.05 L347.96,472.27 L348.90,472.55 L349.85,472.86 L350.80,473.20 L351.74,473.58 L352.66,473.96 L353.55,474.36 L354.39,474.75 L355.18,475.14 L355.84,475.48 L356.68,475.96 L357.24,476.35 L357.69,476.73 L358.14,477.19 L358.68,477.79 L359.36,478.53 L360.22,479.41 L361.28,480.39 L362.04,481.02 L362.82,481.61 L363.63,482.20 L364.47,482.79 L365.31,483.38 L366.16,483.98 L367.01,484.59 L367.83,485.21 L368.63,485.84 L369.38,486.48 L370.08,487.14 L370.72,487.80 L371.29,488.47 L371.78,489.15 L372.18,489.81 L372.55,490.51 L372.93,491.31 L373.30,492.17 L373.65,493.08 L373.99,494.04 L374.31,495.03 L374.61,496.04 L374.89,497.06 L375.15,498.08 L375.37,499.09 L375.58,500.08 L375.75,501.04 L375.89,501.95 L376.01,502.80 L376.09,503.58 L376.14,504.26 L376.16,505.14 L376.11,506.22 L375.99,507.15 L375.80,507.94 L375.56,508.59 L375.29,509.09 L375.02,509.46 L374.76,509.71 L374.45,509.89 L374.21,509.98 L373.97,510.02 L373.55,510.04 L372.99,510.01 L372.28,509.91 L371.47,509.74 L370.55,509.51 L369.55,509.23 L368.46,508.90 L367.31,508.54 L366.09,508.16 L364.83,507.77 L363.80,507.47 L363.02,507.21 L362.18,506.92 L361.29,506.60 L360.35,506.25 L359.38,505.87 L358.37,505.48 L357.35,505.07 L356.30,504.65 L355.24,504.23 L354.18,503.81 L353.12,503.39 L352.06,502.98 L351.02,502.58 L349.99,502.20 L348.97,501.84 L347.98,501.51 L347.02,501.21 L346.08,500.95 L345.16,500.72 L343.76,500.43 L342.44,500.22 L341.20,500.07 L340.03,499.99 L338.91,499.98 L337.84,500.02 L336.81,500.10 L335.80,500.22 L334.80,500.36 L333.78,500.52 L332.67,500.70 L331.58,500.91 L330.45,501.20 L329.33,501.54 L328.24,501.91 L327.16,502.30 L326.11,502.69 L325.09,503.07 L324.10,503.43 L323.15,503.75 L322.27,504.03 L321.45,504.24 L320.72,504.38 L320.10,504.46 L319.18,504.48 L318.25,504.45 L317.32,504.35 L316.41,504.20 L315.53,504.01 L314.69,503.77 L313.92,503.50 L313.23,503.22 L312.64,502.92 L312.15,502.63 L311.44,502.15 L311.05,501.83 L310.89,501.65 L310.78,501.43 L310.65,500.90 L310.56,499.85Z" fill="#f9c89d"/>
<circle cx="322.0" cy="480.0" r="4.0" fill="#fcd7b7" opacity="0.6"/>
<circle cx="333.0" cy="478.0" r="5.0" fill="#fcd7b7" opacity="0.6"/>
<circle cx="352.0" cy="476.0" r="5.0" fill="#fcd7b7" opacity="0.6"/>
<circle cx="366.0" cy="486.0" r="4.0" fill="#fcd7b7" opacity="0.6"/>
<circle cx="372.0" cy="500.0" r="4.0" fill="#fcd7b7" opacity="0.6"/>
<circle cx="316.0" cy="496.0" r="4.0" fill="#fcd7b7" opacity="0.6"/>
<circle cx="340.0" cy="496.0" r="4.0" fill="#fcd7b7" opacity="0.6"/>
<circle cx="358.0" cy="500.0" r="4.0" fill="#fcd7b7" opacity="0.6"/>
<circle cx="328.0" cy="500.0" r="3.0" fill="#fcd7b7" opacity="0.6"/>
<path d="M315.87,491.66 L314.00,490.19 M317.64,491.21 L314.27,488.18 M318.22,489.88 L315.98,487.27 M318.91,485.26 L320.64,488.41 M320.20,484.08 L322.19,488.11 M322.18,484.42 L323.09,486.39 M324.43,485.54 L323.76,483.97 M326.36,486.20 L324.81,482.12 M327.79,485.40 L326.37,481.78 M329.53,480.99 L330.60,483.88 M330.86,479.73 L332.29,484.09 M332.77,480.11 L333.45,482.82 M335.98,483.13 L336.56,479.09 M336.82,483.45 L338.77,479.70 M341.15,482.77 L339.33,484.47 M342.97,483.20 L339.69,486.36 M343.64,484.62 L341.38,487.11 M343.45,489.40 L346.10,486.85 M344.33,490.86 L347.46,487.68 M346.41,491.13 L347.74,489.56 M348.86,490.54 L347.86,492.07 M350.80,490.21 L348.65,494.05 M351.97,491.16 L350.31,494.60 M353.54,495.62 L354.63,492.63 M354.92,496.82 L356.28,492.45 M356.86,496.37 L357.44,493.73 M360.56,493.52 L360.04,497.62 M362.12,493.67 L361.66,497.83 M364.92,497.42 L365.22,494.85 M366.42,498.58 L366.90,494.04 M368.09,498.10 L368.41,494.85 " fill="none" stroke="#8a6a8a" stroke-width="0.5" opacity="0.6"/>
<path d="M314.30,491.70 L315.37,491.78 L316.36,491.79 L317.19,491.72 L317.81,491.55 L318.20,491.23 L318.39,490.75 L318.42,490.08 L318.37,489.24 L318.34,488.24 L318.37,487.17 L318.48,486.13 L318.67,485.20 L319.01,484.46 L319.46,483.96 L320.07,483.71 L320.79,483.75 L321.60,484.01 L322.50,484.45 L323.40,485.00 L324.30,485.57 L325.15,486.06 L325.90,486.42 L326.58,486.56 L327.18,486.44 L327.69,486.03 L328.09,485.38 L328.40,484.52 L328.66,483.53 L328.90,482.48 L329.17,481.47 L329.51,480.59 L329.94,479.89 L330.47,479.45 L331.10,479.29 L331.83,479.42 L332.61,479.80 L333.41,480.39 L334.19,481.12 L334.91,481.90 L335.44,482.65 L335.89,483.28 L336.02,483.68 L336.35,483.88 L336.59,483.79 L337.19,483.61 L337.90,483.30 L338.83,483.01 L339.88,482.79 L340.93,482.65 L341.88,482.61 L342.66,482.68 L343.24,482.91 L343.56,483.26 L343.73,483.84 L343.84,484.68 L343.80,485.67 L343.63,486.71 L343.42,487.76 L343.26,488.75 L343.21,489.62 L343.35,490.35 L343.70,490.89 L344.29,491.25 L345.06,491.37 L346.01,491.33 L347.01,491.10 L348.03,490.77 L348.99,490.39 L349.88,490.08 L350.61,489.89 L351.24,489.92 L351.69,490.18 L352.06,490.69 L352.31,491.42 L352.53,492.34 L352.73,493.37 L352.96,494.42 L353.24,495.39 L353.63,496.23 L354.09,496.83 L354.68,497.18 L355.35,497.23 L356.14,497.01 L356.91,496.52 L357.69,495.85 L358.45,495.09 L359.17,494.34 L359.85,493.68 L360.50,493.21 L361.11,492.99 L361.70,493.05 L362.27,493.39 L362.81,493.99 L363.33,494.79 L363.83,495.71 L364.32,496.67 L364.83,497.55 L365.36,498.28 L365.92,498.78 L366.51,499.01 L367.13,498.95 L367.78,498.61 L368.45,498.03 L369.13,497.29 L369.81,496.47 L370.50,495.67 L371.17,494.97 L371.84,494.48" fill="none" stroke="#dd3a30" stroke-width="1.20"/>
<path d="M314.30,491.70 L314.01,490.70 L313.76,489.74 L313.69,488.87 L313.85,488.12 L314.27,487.55 L314.94,487.18 L315.81,487.05 L316.81,487.14 L317.83,487.45 L318.82,487.88 L319.75,488.30 L320.60,488.62 L321.33,488.79 L321.94,488.73 L322.40,488.42 L322.77,487.86 L323.05,487.08 L323.25,486.14 L323.45,485.10 L323.66,484.05 L323.92,483.09 L324.28,482.28 L324.73,481.70 L325.27,481.40 L325.88,481.37 L326.60,481.59 L327.41,482.00 L328.28,482.56 L329.16,483.16 L330.02,483.74 L330.81,484.21 L331.52,484.50 L332.13,484.55 L332.65,484.34 L333.08,483.87 L333.46,483.16 L333.83,482.29 L334.23,481.33 L334.71,480.37 L335.38,479.52 L336.14,478.90 L337.21,478.64 L338.04,478.76 L338.91,479.32 L339.36,480.09 L339.63,481.11 L339.61,482.18 L339.44,483.23 L339.23,484.24 L339.10,485.17 L339.14,485.98 L339.39,486.62 L339.93,487.12 L340.65,487.35 L341.45,487.31 L342.37,487.13 L343.41,486.94 L344.46,486.75 L345.46,486.63 L346.34,486.63 L347.04,486.77 L347.54,487.09 L347.80,487.58 L347.91,488.29 L347.87,489.13 L347.79,490.13 L347.73,491.19 L347.77,492.25 L347.90,493.21 L348.21,494.02 L348.63,494.58 L349.24,494.90 L349.95,494.93 L350.78,494.72 L351.66,494.30 L352.57,493.76 L353.46,493.17 L354.30,492.62 L355.05,492.21 L355.73,491.99 L356.28,492.02 L356.77,492.32 L357.14,492.86 L357.55,493.62 L357.95,494.53 L358.38,495.50 L358.84,496.45 L359.36,497.28 L359.91,497.90 L360.50,498.27 L361.11,498.35 L361.74,498.14 L362.39,497.67 L363.07,497.01 L363.77,496.24 L364.48,495.44 L365.17,494.70 L365.84,494.11 L366.47,493.74 L367.08,493.64 L367.66,493.83 L368.21,494.29 L368.75,494.99 L369.27,495.84 L369.78,496.78 L370.30,497.70 L370.83,498.51 L371.36,499.12" fill="none" stroke="#2a70b0" stroke-width="1.20"/>
<circle cx="42.75" cy="432.29" r="3.00" fill="#bf953f"/><circle cx="43.07" cy="429.31" r="3.00" fill="#bf953f"/><circle cx="43.90" cy="426.09" r="3.00" fill="#bf953f"/><circle cx="44.90" cy="422.96" r="3.00" fill="#bf953f"/><circle cx="46.20" cy="420.13" r="3.00" fill="#bf953f"/><circle cx="48.02" cy="417.64" r="3.00" fill="#bf953f"/><circle cx="50.32" cy="415.34" r="3.00" fill="#bf953f"/><circle cx="52.82" cy="413.62" r="3.00" fill="#bf953f"/><circle cx="55.58" cy="412.46" r="3.00" fill="#bf953f"/><circle cx="58.94" cy="411.50" r="3.00" fill="#bf953f"/><circle cx="62.26" cy="410.74" r="3.00" fill="#bf953f"/><circle cx="65.30" cy="410.24" r="3.00" fill="#bf953f"/><circle cx="68.47" cy="409.77" r="3.00" fill="#bf953f"/><circle cx="71.62" cy="409.25" r="3.00" fill="#bf953f"/><circle cx="74.92" cy="408.54" r="3.00" fill="#bf953f"/><circle cx="77.88" cy="407.90" r="3.00" fill="#bf953f"/><circle cx="80.96" cy="407.59" r="3.00" fill="#bf953f"/><circle cx="84.37" cy="407.83" r="3.00" fill="#bf953f"/><circle cx="87.58" cy="408.47" r="3.00" fill="#bf953f"/><circle cx="90.54" cy="409.52" r="3.00" fill="#bf953f"/><circle cx="93.37" cy="411.19" r="3.00" fill="#bf953f"/><circle cx="96.11" cy="413.18" r="3.00" fill="#bf953f"/><circle cx="98.56" cy="415.21" r="3.00" fill="#bf953f"/><circle cx="101.20" cy="417.30" r="3.00" fill="#bf953f"/><circle cx="103.84" cy="419.27" r="3.00" fill="#bf953f"/><circle cx="106.06" cy="421.34" r="3.00" fill="#bf953f"/><circle cx="107.57" cy="424.15" r="3.00" fill="#bf953f"/><circle cx="107.37" cy="427.14" r="3.00" fill="#bf953f"/><circle cx="106.18" cy="429.96" r="3.00" fill="#bf953f"/><circle cx="104.14" cy="432.73" r="3.00" fill="#bf953f"/><circle cx="101.87" cy="434.93" r="3.00" fill="#bf953f"/><circle cx="99.14" cy="435.90" r="3.00" fill="#bf953f"/><circle cx="95.88" cy="434.96" r="3.00" fill="#bf953f"/><circle cx="92.69" cy="433.79" r="3.00" fill="#bf953f"/><circle cx="89.74" cy="432.88" r="3.00" fill="#bf953f"/><circle cx="86.41" cy="432.04" r="3.00" fill="#bf953f"/><circle cx="83.33" cy="431.31" r="3.00" fill="#bf953f"/><circle cx="80.12" cy="430.70" r="3.00" fill="#bf953f"/><circle cx="76.88" cy="430.31" r="3.00" fill="#bf953f"/><circle cx="73.60" cy="430.21" r="3.00" fill="#bf953f"/><circle cx="70.37" cy="430.34" r="3.00" fill="#bf953f"/><circle cx="67.20" cy="430.64" r="3.00" fill="#bf953f"/><circle cx="64.06" cy="431.02" r="3.00" fill="#bf953f"/><circle cx="60.84" cy="431.58" r="3.00" fill="#bf953f"/><circle cx="57.66" cy="432.30" r="3.00" fill="#bf953f"/><circle cx="54.67" cy="432.99" r="3.00" fill="#bf953f"/><circle cx="51.70" cy="433.52" r="3.00" fill="#bf953f"/><circle cx="48.34" cy="433.82" r="3.00" fill="#bf953f"/><circle cx="45.22" cy="433.79" r="3.00" fill="#bf953f"/><circle cx="42.75" cy="432.29" r="2.00" fill="#e4c063"/><circle cx="43.07" cy="429.31" r="2.00" fill="#e4c063"/><circle cx="43.90" cy="426.09" r="2.00" fill="#e4c063"/><circle cx="44.90" cy="422.96" r="2.00" fill="#e4c063"/><circle cx="46.20" cy="420.13" r="2.00" fill="#e4c063"/><circle cx="48.02" cy="417.64" r="2.00" fill="#e4c063"/><circle cx="50.32" cy="415.34" r="2.00" fill="#e4c063"/><circle cx="52.82" cy="413.62" r="2.00" fill="#e4c063"/><circle cx="55.58" cy="412.46" r="2.00" fill="#e4c063"/><circle cx="58.94" cy="411.50" r="2.00" fill="#e4c063"/><circle cx="62.26" cy="410.74" r="2.00" fill="#e4c063"/><circle cx="65.30" cy="410.24" r="2.00" fill="#e4c063"/><circle cx="68.47" cy="409.77" r="2.00" fill="#e4c063"/><circle cx="71.62" cy="409.25" r="2.00" fill="#e4c063"/><circle cx="74.92" cy="408.54" r="2.00" fill="#e4c063"/><circle cx="77.88" cy="407.90" r="2.00" fill="#e4c063"/><circle cx="80.96" cy="407.59" r="2.00" fill="#e4c063"/><circle cx="84.37" cy="407.83" r="2.00" fill="#e4c063"/><circle cx="87.58" cy="408.47" r="2.00" fill="#e4c063"/><circle cx="90.54" cy="409.52" r="2.00" fill="#e4c063"/><circle cx="93.37" cy="411.19" r="2.00" fill="#e4c063"/><circle cx="96.11" cy="413.18" r="2.00" fill="#e4c063"/><circle cx="98.56" cy="415.21" r="2.00" fill="#e4c063"/><circle cx="101.20" cy="417.30" r="2.00" fill="#e4c063"/><circle cx="103.84" cy="419.27" r="2.00" fill="#e4c063"/><circle cx="106.06" cy="421.34" r="2.00" fill="#e4c063"/><circle cx="107.57" cy="424.15" r="2.00" fill="#e4c063"/><circle cx="107.37" cy="427.14" r="2.00" fill="#e4c063"/><circle cx="106.18" cy="429.96" r="2.00" fill="#e4c063"/><circle cx="104.14" cy="432.73" r="2.00" fill="#e4c063"/><circle cx="101.87" cy="434.93" r="2.00" fill="#e4c063"/><circle cx="99.14" cy="435.90" r="2.00" fill="#e4c063"/><circle cx="95.88" cy="434.96" r="2.00" fill="#e4c063"/><circle cx="92.69" cy="433.79" r="2.00" fill="#e4c063"/><circle cx="89.74" cy="432.88" r="2.00" fill="#e4c063"/><circle cx="86.41" cy="432.04" r="2.00" fill="#e4c063"/><circle cx="83.33" cy="431.31" r="2.00" fill="#e4c063"/><circle cx="80.12" cy="430.70" r="2.00" fill="#e4c063"/><circle cx="76.88" cy="430.31" r="2.00" fill="#e4c063"/><circle cx="73.60" cy="430.21" r="2.00" fill="#e4c063"/><circle cx="70.37" cy="430.34" r="2.00" fill="#e4c063"/><circle cx="67.20" cy="430.64" r="2.00" fill="#e4c063"/><circle cx="64.06" cy="431.02" r="2.00" fill="#e4c063"/><circle cx="60.84" cy="431.58" r="2.00" fill="#e4c063"/><circle cx="57.66" cy="432.30" r="2.00" fill="#e4c063"/><circle cx="54.67" cy="432.99" r="2.00" fill="#e4c063"/><circle cx="51.70" cy="433.52" r="2.00" fill="#e4c063"/><circle cx="48.34" cy="433.82" r="2.00" fill="#e4c063"/><circle cx="45.22" cy="433.79" r="2.00" fill="#e4c063"/><path d="M42.75,432.29 L42.73,431.93 L42.76,431.22 L42.88,430.32 L43.07,429.31 L43.32,428.23 L43.60,427.15 L43.90,426.09 L44.17,425.19 L44.45,424.29 L44.75,423.40 L45.07,422.53 L45.41,421.69 L45.79,420.89 L46.20,420.13 L46.67,419.40 L47.17,418.71 L47.73,418.00 L48.33,417.29 L48.96,416.61 L49.63,415.96 L50.32,415.34 L51.03,414.77 L51.75,414.26 L52.47,413.82 L53.18,413.43 L53.94,413.08 L54.74,412.76 L55.58,412.46 L56.48,412.17 L57.43,411.90 L58.42,411.63 L59.47,411.36 L60.43,411.12 L61.32,410.93 L62.26,410.74 L63.24,410.57 L64.26,410.40 L65.30,410.24 L66.35,410.08 L67.41,409.93 L68.47,409.77 L69.51,409.61 L70.54,409.45 L71.62,409.25 L72.75,409.02 L73.86,408.78 L74.92,408.54 L75.94,408.30 L76.93,408.09 L77.88,407.90 L78.78,407.76 L79.65,407.65 L80.49,407.60 L81.45,407.59 L82.42,407.63 L83.40,407.71 L84.37,407.83 L85.32,407.98 L86.25,408.16 L87.15,408.37 L87.99,408.58 L88.87,408.84 L89.74,409.17 L90.54,409.52 L91.32,409.93 L92.10,410.39 L92.94,410.91 L93.82,411.48 L94.57,412.00 L95.33,412.56 L96.11,413.18 L96.91,413.83 L97.73,414.51 L98.56,415.21 L99.41,415.91 L100.29,416.61 L101.20,417.30 L102.12,417.97 L103.01,418.63 L103.84,419.27 L104.59,419.88 L105.23,420.44 L105.73,420.96 L106.35,421.71 L106.84,422.38 L107.18,422.99 L107.42,423.56 L107.57,424.15 L107.64,424.80 L107.63,425.51 L107.54,426.30 L107.37,427.14 L107.11,428.00 L106.76,428.86 L106.39,429.61 L105.95,430.34 L105.40,431.14 L104.79,431.95 L104.14,432.73 L103.49,433.46 L102.86,434.08 L102.29,434.59 L101.49,435.24 L100.93,435.64 L100.55,435.82 L100.09,435.92 L99.14,435.90 L98.69,435.83 L98.03,435.68 L97.24,435.44 L96.35,435.13 L95.39,434.78 L94.35,434.39 L93.26,433.99 L92.11,433.59 L90.93,433.21 L89.74,432.88 L88.81,432.65 L87.87,432.41 L86.90,432.16 L85.91,431.92 L84.89,431.67 L83.85,431.43 L82.80,431.20 L81.73,430.98 L80.66,430.79 L79.58,430.61 L78.50,430.47 L77.42,430.35 L76.33,430.27 L75.23,430.22 L74.14,430.21 L73.06,430.22 L71.98,430.25 L70.91,430.31 L69.84,430.38 L68.78,430.48 L67.73,430.58 L66.68,430.70 L65.64,430.82 L64.59,430.95 L63.54,431.10 L62.46,431.27 L61.38,431.47 L60.30,431.70 L59.23,431.93 L58.18,432.18 L57.14,432.42 L56.13,432.66 L55.15,432.88 L54.21,433.09 L53.31,433.26 L52.48,433.41 L51.70,433.52 L50.53,433.65 L49.41,433.75 L48.34,433.82 L47.33,433.85 L46.41,433.85 L45.59,433.82 L44.87,433.75 L44.35,433.66 L43.67,433.47 L43.13,433.20 L42.98,433.06 L42.82,432.66Z" fill="#e4c063"/>
<path d="M46.81,423.12 L45.72,421.27 M48.82,423.41 L46.47,419.37 M50.32,422.84 L47.75,418.34 M51.25,421.33 L49.61,418.30 M52.66,416.98 L53.93,419.80 M53.78,415.41 L55.74,420.09 M55.38,414.89 L57.12,419.43 M57.32,415.41 L58.18,417.80 M61.49,417.25 L59.97,413.64 M63.22,417.26 L61.20,412.40 M64.46,416.27 L62.94,412.22 M66.68,412.46 L66.88,414.39 M68.88,411.25 L67.87,415.70 M71.13,411.75 L68.61,416.32 M72.32,413.53 L70.06,416.33 M72.53,418.16 L74.54,416.04 M72.91,419.94 L76.51,416.45 M73.70,420.87 L77.72,418.00 M75.49,421.54 L77.73,419.98 M79.75,421.36 L77.95,424.66 M81.14,421.15 L79.49,426.13 M82.29,421.86 L81.44,426.22 M83.57,423.46 L83.31,425.18 M84.91,425.40 L85.14,423.68 M86.33,426.94 L86.90,422.53 M87.77,427.54 L88.62,422.37 M89.38,427.10 L90.16,423.42 M93.19,424.64 L92.58,427.31 M94.93,423.89 L93.98,428.73 M96.33,424.08 L95.73,429.06 M97.68,425.23 L97.57,428.15 M100.89,428.47 L100.76,424.86 " fill="none" stroke="#8a6a8a" stroke-width="0.5" opacity="0.6"/>
<path d="M45.40,422.70 L46.31,423.07 L47.20,423.39 L48.03,423.63 L48.80,423.75 L49.47,423.74 L50.06,423.57 L50.55,423.23 L50.93,422.74 L51.24,422.09 L51.47,421.32 L51.67,420.44 L51.84,419.50 L52.04,418.53 L52.27,417.59 L52.55,416.71 L52.88,415.95 L53.30,415.32 L53.80,414.85 L54.38,414.57 L55.01,414.48 L55.72,414.57 L56.48,414.82 L57.26,415.21 L58.08,415.69 L58.90,416.21 L59.75,416.71 L60.59,417.15 L61.40,417.49 L62.15,417.71 L62.82,417.77 L63.42,417.68 L63.89,417.42 L64.32,416.99 L64.70,416.40 L65.03,415.68 L65.36,414.86 L65.72,413.98 L66.15,413.09 L66.69,412.25 L67.35,411.53 L68.34,411.03 L69.23,410.77 L70.30,410.87 L71.05,411.16 L71.80,411.76 L72.22,412.45 L72.53,413.33 L72.62,414.23 L72.61,415.21 L72.53,416.19 L72.42,417.16 L72.35,418.09 L72.39,418.99 L72.51,419.75 L72.61,420.28 L72.72,420.62 L73.08,420.97 L73.56,421.21 L74.23,421.44 L75.05,421.63 L75.99,421.77 L76.99,421.81 L77.97,421.74 L78.85,421.54 L79.56,421.24 L80.23,420.99 L80.63,420.75 L81.14,420.69 L81.60,420.80 L82.04,421.08 L82.41,421.52 L82.86,422.12 L83.32,422.85 L83.79,423.66 L84.28,424.51 L84.77,425.35 L85.28,426.14 L85.81,426.83 L86.33,427.38 L86.86,427.76 L87.40,427.97 L87.96,427.99 L88.49,427.82 L89.15,427.52 L89.85,427.07 L90.57,426.53 L91.32,425.92 L92.08,425.30 L92.84,424.71 L93.57,424.19 L94.25,423.78 L94.87,423.50 L95.46,423.39 L95.97,423.44 L96.44,423.68 L96.89,424.08 L97.41,424.63 L97.93,425.29 L98.50,426.03 L99.10,426.80 L99.72,427.56 L100.34,428.26 L100.98,428.85 L101.61,429.30 L102.20,429.59 L102.73,429.70" fill="none" stroke="#dd3a30" stroke-width="1.30"/>
<path d="M45.40,422.70 L45.53,421.73 L45.68,420.81 L45.88,419.96 L46.15,419.23 L46.52,418.64 L46.97,418.21 L47.53,417.95 L48.19,417.85 L48.93,417.92 L49.76,418.11 L50.62,418.43 L51.51,418.82 L52.39,419.26 L53.25,419.68 L54.06,420.06 L54.83,420.33 L55.51,420.49 L56.12,420.49 L56.66,420.32 L57.14,419.97 L57.56,419.45 L57.92,418.78 L58.27,417.98 L58.58,417.10 L58.89,416.17 L59.16,415.24 L59.43,414.35 L59.73,413.54 L60.09,412.86 L60.53,412.33 L61.04,411.96 L61.68,411.76 L62.37,411.76 L63.12,411.93 L63.92,412.27 L64.74,412.73 L65.54,413.30 L66.29,413.93 L66.93,414.59 L67.47,415.24 L67.68,415.81 L67.97,416.28 L68.05,416.55 L68.39,416.74 L68.69,416.74 L69.26,416.72 L69.90,416.58 L70.73,416.44 L71.63,416.27 L72.59,416.12 L73.56,415.98 L74.49,415.88 L75.32,415.82 L76.10,415.86 L76.86,416.16 L77.54,416.73 L77.93,417.32 L78.14,418.06 L78.14,418.83 L77.99,419.63 L77.75,420.48 L77.49,421.38 L77.31,422.35 L77.30,423.36 L77.54,424.39 L77.91,425.26 L78.59,426.03 L79.21,426.49 L79.89,426.74 L80.61,426.76 L81.42,426.58 L82.15,426.20 L82.87,425.68 L83.59,425.05 L84.30,424.37 L84.99,423.68 L85.67,423.05 L86.34,422.51 L87.01,422.11 L87.67,421.88 L88.32,421.84 L88.95,422.01 L89.60,422.39 L90.12,422.94 L90.59,423.64 L91.04,424.45 L91.46,425.33 L91.87,426.22 L92.28,427.09 L92.73,427.88 L93.22,428.55 L93.77,429.07 L94.36,429.41 L95.03,429.55 L95.75,429.47 L96.50,429.20 L97.18,428.73 L97.86,428.11 L98.50,427.39 L99.10,426.61 L99.68,425.84 L100.25,425.11 L100.82,424.47 L101.39,423.97 L102.00,423.64 L102.67,423.50" fill="none" stroke="#2a70b0" stroke-width="1.30"/>
<circle cx="631.70" cy="293.00" r="12.3" fill="#b8700c" stroke="#a9650a" stroke-width="0.9"/>
<circle cx="630.50" cy="291.60" r="10.6" fill="#de8a12"/>
<circle cx="628.20" cy="288.00" r="2" fill="#eeb45c" opacity="0.8"/>
<circle cx="656.40" cy="294.80" r="12.3" fill="#56739f" stroke="#4c6791" stroke-width="0.9"/>
<circle cx="655.20" cy="293.40" r="10.6" fill="#6d8cc0"/>
<circle cx="652.90" cy="289.80" r="2" fill="#9ab2d8" opacity="0.8"/>
<circle cx="646.50" cy="273.80" r="12.3" fill="#3b5691" stroke="#31497e" stroke-width="0.9"/>
<circle cx="645.30" cy="272.40" r="10.6" fill="#4c6bab"/>
<circle cx="643.00" cy="268.80" r="2" fill="#7f98c8" opacity="0.8"/>
<text x="276.55" y="355.60" font-size="16.13" font-weight="bold" fill="#111111" textLength="109.74" lengthAdjust="spacingAndGlyphs">Arginosuccinate</text>
<text x="413.26" y="355.20" font-size="20.35" font-weight="bold" fill="#111111" textLength="132.94" lengthAdjust="spacingAndGlyphs">Citrulline-Nitric</text>
<text x="431.79" y="378.20" font-size="20.35" font-weight="bold" fill="#111111" textLength="95.97" lengthAdjust="spacingAndGlyphs">oxide cycle</text>
<text x="595.87" y="453.60" font-size="15.55" font-weight="normal" fill="#111111" textLength="69.95" lengthAdjust="spacingAndGlyphs">NADPH + O</text>
<text x="666.14" y="455.30" font-size="9.16" font-weight="normal" fill="#111111" textLength="5.13" lengthAdjust="spacingAndGlyphs">2</text>
<text x="80.33" y="530.20" font-size="14.97" font-weight="normal" fill="#111111" textLength="28.00" lengthAdjust="spacingAndGlyphs">Urea</text>
<text x="48.98" y="50.00" font-size="26.89" font-weight="bold" fill="#111111" textLength="52.36" lengthAdjust="spacingAndGlyphs">Liver</text>
<text x="294.83" y="100.90" font-size="19.91" font-weight="bold" fill="#111111" textLength="90.30" lengthAdjust="spacingAndGlyphs">L-Arginine</text>
<g transform="translate(0.00,6.60)">
<g font-family="Liberation Sans, sans-serif"><g stroke="#333" stroke-width="1.3" fill="none">
<path d="M294.9,556.3 L294.9,571 M296.9,556.3 L296.9,571"/>
<path d="M295.9,571.5 L282.1,578.5 M295.9,571.5 L304.4,575.8 M313.6,575.8 L321.2,571.5 L334.2,578.5 L347.7,571.5 L360.2,578.5 L373.8,571.5 L385.3,578"/>
<path d="M372.3,556.3 L372.3,571.5 M374.4,556.3 L374.4,571"/>
</g>
<polygon points="360.2,578.5 358.8,591 361.6,591" fill="#333"/>
<text x="291.80" y="554.40" font-size="10.00" fill="#1a6fbd" stroke="#1a6fbd" stroke-width="0.3">N</text>
<text x="299.50" y="554.40" font-size="10.00" fill="#333" stroke="#333" stroke-width="0.3">H</text>
<text x="261.00" y="581.80" font-size="10.00" fill="#333" stroke="#333" stroke-width="0.3">H</text>
<text x="268.00" y="584.50" font-size="6.50" fill="#333" stroke="#333" stroke-width="0.3">2</text>
<text x="271.80" y="581.80" font-size="10.00" fill="#1a6fbd" stroke="#1a6fbd" stroke-width="0.3">N</text>
<text x="305.20" y="581.80" font-size="10.00" fill="#1a6fbd" stroke="#1a6fbd" stroke-width="0.3">N</text>
<text x="305.30" y="591.00" font-size="10.00" fill="#333" stroke="#333" stroke-width="0.3">H</text>
<text x="369.30" y="554.40" font-size="10.00" fill="#e0302c" stroke="#e0302c" stroke-width="0.3">O</text>
<text x="387.80" y="581.80" font-size="10.00" fill="#e0302c" stroke="#e0302c" stroke-width="0.3">OH</text>
<text x="357.40" y="601.80" font-size="10.00" fill="#1a6fbd" stroke="#1a6fbd" stroke-width="0.3">N</text>
<text x="365.00" y="601.80" font-size="10.00" fill="#333" stroke="#333" stroke-width="0.3">H</text>
<text x="372.30" y="604.50" font-size="6.50" fill="#333" stroke="#333" stroke-width="0.3">2</text>
</g>
</g>
<rect x="97.05" y="169.85" width="48.10" height="30.00" rx="15.00" fill="#fff" stroke="#139488" stroke-width="3.50"/>
<text x="105.06" y="189.70" font-size="15.99" font-weight="bold" fill="#1d4f8f" textLength="28.28" lengthAdjust="spacingAndGlyphs">OTC</text>
<path d="M135,201.6 C145,210 163,211 175,207.5" fill="none" stroke="#e8892b" stroke-width="2.2"/>
<polygon points="180.00,205.40 172.94,211.60 172.81,207.48 170.72,203.92" fill="#e8892b"/>
<text x="627.41" y="359.40" font-size="15.84" font-weight="bold" fill="#1d4f8f" textLength="40.15" lengthAdjust="spacingAndGlyphs">eNOS</text>
<text x="590.68" y="258.40" font-size="15.99" font-weight="bold" fill="#111111" textLength="76.82" lengthAdjust="spacingAndGlyphs">Nitric oxide</text>
<text x="322.15" y="325.30" font-size="14.97" font-weight="bold" fill="#1d4f8f" textLength="28.55" lengthAdjust="spacingAndGlyphs">ASS</text>
<text x="325.47" y="436.00" font-size="15.41" font-weight="bold" fill="#1d4f8f" textLength="26.22" lengthAdjust="spacingAndGlyphs">ASL</text>
<text x="95.95" y="563.30" font-size="15.26" font-weight="bold" fill="#1d4f8f" textLength="59.12" lengthAdjust="spacingAndGlyphs">Arginase</text>
<text x="169.34" y="588.60" font-size="15.12" font-weight="normal" fill="#111111" textLength="9.54" lengthAdjust="spacingAndGlyphs">H</text>
<text x="179.05" y="590.40" font-size="9.50" font-weight="normal" fill="#111111" textLength="5.01" lengthAdjust="spacingAndGlyphs">2</text>
<text x="183.75" y="588.60" font-size="15.12" font-weight="normal" fill="#111111" textLength="9.54" lengthAdjust="spacingAndGlyphs">O</text>
<rect x="86.00" y="161.00" width="2.20" height="29.50" fill="url(#g_5aab47_d)"/>
<polygon points="87.10,200.70 82.10,190.00 92.10,190.00" fill="#5aab47"/>
<rect x="152.30" y="175.80" width="2.20" height="26.90" fill="url(#g_3a86cf_u)"/>
<polygon points="153.40,164.80 148.40,176.30 158.40,176.30" fill="#3a86cf"/>
<rect x="293.40" y="177.30" width="2.20" height="28.00" fill="url(#g_5aab47_u)"/>
<polygon points="294.50,167.00 289.50,177.80 299.50,177.80" fill="#5aab47"/>
<rect x="384.90" y="165.50" width="2.20" height="26.50" fill="url(#g_3a86cf_d)"/>
<polygon points="386.00,201.80 381.00,191.50 391.00,191.50" fill="#3a86cf"/>
<rect x="358.80" y="313.10" width="2.20" height="26.30" fill="url(#g_3a86cf_u)"/>
<polygon points="359.90,303.00 354.90,313.60 364.90,313.60" fill="#3a86cf"/>
<rect x="310.20" y="404.00" width="2.20" height="26.00" fill="url(#g_5aab47_d)"/>
<polygon points="311.30,439.40 306.30,429.50 316.30,429.50" fill="#5aab47"/>
<rect x="355.70" y="413.40" width="2.20" height="26.80" fill="url(#g_3a86cf_u)"/>
<polygon points="356.80,404.00 351.80,413.90 361.80,413.90" fill="#3a86cf"/>
<rect x="386.40" y="477.50" width="2.20" height="26.90" fill="url(#g_3a86cf_u)"/>
<polygon points="387.50,467.40 382.50,478.00 392.50,478.00" fill="#3a86cf"/>
<rect x="83.30" y="537.00" width="2.20" height="34.80" fill="url(#g_5aab47_d)"/>
<polygon points="84.40,582.00 79.40,571.30 89.40,571.30" fill="#5aab47"/>
<rect x="160.40" y="550.20" width="2.20" height="26.60" fill="url(#g_3a86cf_u)"/>
<polygon points="161.50,540.40 156.50,550.70 166.50,550.70" fill="#3a86cf"/>
<rect x="578.40" y="241.50" width="2.20" height="26.80" fill="url(#g_5aab47_u)"/>
<polygon points="579.50,231.00 574.50,242.00 584.50,242.00" fill="#5aab47"/>
<rect x="614.60" y="339.20" width="2.20" height="34.50" fill="url(#g_5aab47_u)"/>
<polygon points="615.70,329.80 610.70,339.70 620.70,339.70" fill="#5aab47"/>
</g>
<rect x="4" y="7" width="1420.5" height="713.7" fill="none" stroke="#111" stroke-width="4"/>
<line x1="723.5" y1="9" x2="723.5" y2="719" stroke="#111" stroke-width="3" stroke-dasharray="7.5 7.68" stroke-dashoffset="2.5"/>
</svg>
</body></html>
